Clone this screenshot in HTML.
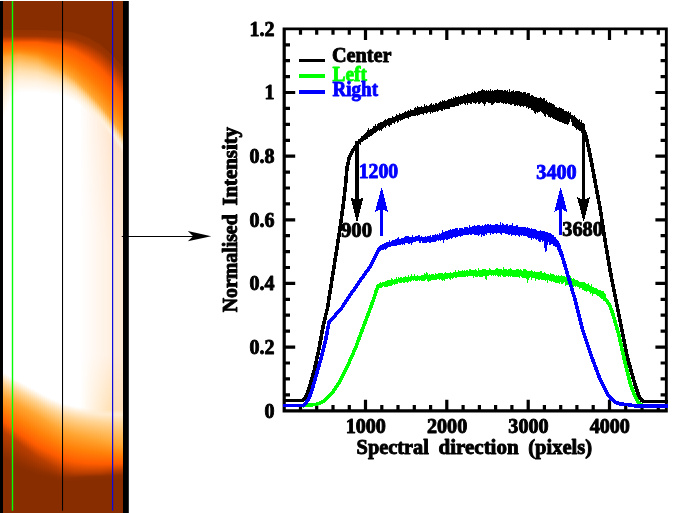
<!DOCTYPE html>
<html lang="en"><head><meta charset="utf-8"><title>Normalised intensity along the spectral direction</title>
<style>html,body{margin:0;padding:0;background:#fff}body{width:694px;height:513px;overflow:hidden}svg{display:block;will-change:transform}text{font-family:'Liberation Serif','DejaVu Serif',serif;font-weight:bold;font-size:20px;stroke-width:0.9px;paint-order:stroke fill;stroke-linejoin:round}.k{fill:#000;stroke:#000}.g{fill:#0f0;stroke:#0f0}.b{fill:#00f;stroke:#00f}</style></head><body>
<svg width="694" height="513" viewBox="0 0 694 513">
<defs><linearGradient id="peach" x1="0" y1="0" x2="0" y2="1"><stop offset="0.26" stop-color="#fce0c4" stop-opacity="0"/><stop offset="0.30" stop-color="#fce0c4" stop-opacity="1"/><stop offset="0.80" stop-color="#fce0c4" stop-opacity="1"/><stop offset="0.84" stop-color="#fce0c4" stop-opacity="0"/></linearGradient><linearGradient id="g0" gradientUnits="userSpaceOnUse" x1="0" y1="0" x2="0" y2="513"><stop offset="0.0575" stop-color="#882d00"/><stop offset="0.0595" stop-color="#943200"/><stop offset="0.0702" stop-color="#9c3400"/><stop offset="0.0783" stop-color="#d24600"/><stop offset="0.0846" stop-color="#ff5c00"/><stop offset="0.0983" stop-color="#ff7a04"/><stop offset="0.1065" stop-color="#ff941a"/><stop offset="0.1120" stop-color="#ffa836"/><stop offset="0.1352" stop-color="#ffc674"/><stop offset="0.1608" stop-color="#ffe0b0"/><stop offset="0.1910" stop-color="#fff1de"/><stop offset="0.2282" stop-color="#ffffff"/><stop offset="0.4426" stop-color="#ffffff"/><stop offset="0.6195" stop-color="#ffffff"/><stop offset="0.7267" stop-color="#ffffff"/><stop offset="0.7364" stop-color="#ffecd0"/><stop offset="0.7477" stop-color="#ffd494"/><stop offset="0.7610" stop-color="#ffbc5f"/><stop offset="0.7742" stop-color="#ffa532"/><stop offset="0.7981" stop-color="#ff820a"/><stop offset="0.8221" stop-color="#ff5c00"/><stop offset="0.8425" stop-color="#b93e00"/><stop offset="0.8863" stop-color="#8e2f00"/><stop offset="0.8941" stop-color="#882d00"/></linearGradient><linearGradient id="g1" gradientUnits="userSpaceOnUse" x1="0" y1="0" x2="0" y2="513"><stop offset="0.0575" stop-color="#882d00"/><stop offset="0.0595" stop-color="#943200"/><stop offset="0.0702" stop-color="#9c3400"/><stop offset="0.0782" stop-color="#d24600"/><stop offset="0.0843" stop-color="#ff5c00"/><stop offset="0.0979" stop-color="#ff7a04"/><stop offset="0.1060" stop-color="#ff941a"/><stop offset="0.1115" stop-color="#ffa836"/><stop offset="0.1328" stop-color="#ffc674"/><stop offset="0.1563" stop-color="#ffe0b0"/><stop offset="0.1841" stop-color="#fff1de"/><stop offset="0.2183" stop-color="#ffffff"/><stop offset="0.4327" stop-color="#ffffff"/><stop offset="0.6218" stop-color="#ffffff"/><stop offset="0.7290" stop-color="#ffffff"/><stop offset="0.7387" stop-color="#ffecd0"/><stop offset="0.7500" stop-color="#ffd494"/><stop offset="0.7631" stop-color="#ffbc5f"/><stop offset="0.7763" stop-color="#ffa532"/><stop offset="0.8007" stop-color="#ff820a"/><stop offset="0.8251" stop-color="#ff5c00"/><stop offset="0.8455" stop-color="#b93e00"/><stop offset="0.8887" stop-color="#8e2f00"/><stop offset="0.8965" stop-color="#882d00"/></linearGradient><linearGradient id="g2" gradientUnits="userSpaceOnUse" x1="0" y1="0" x2="0" y2="513"><stop offset="0.0575" stop-color="#882d00"/><stop offset="0.0595" stop-color="#943200"/><stop offset="0.0702" stop-color="#9c3400"/><stop offset="0.0781" stop-color="#d24600"/><stop offset="0.0841" stop-color="#ff5c00"/><stop offset="0.0975" stop-color="#ff7a04"/><stop offset="0.1056" stop-color="#ff941a"/><stop offset="0.1109" stop-color="#ffa836"/><stop offset="0.1304" stop-color="#ffc674"/><stop offset="0.1519" stop-color="#ffe0b0"/><stop offset="0.1772" stop-color="#fff1de"/><stop offset="0.2084" stop-color="#ffffff"/><stop offset="0.4228" stop-color="#ffffff"/><stop offset="0.6241" stop-color="#ffffff"/><stop offset="0.7313" stop-color="#ffffff"/><stop offset="0.7411" stop-color="#ffecd0"/><stop offset="0.7522" stop-color="#ffd494"/><stop offset="0.7653" stop-color="#ffbc5f"/><stop offset="0.7783" stop-color="#ffa532"/><stop offset="0.8032" stop-color="#ff820a"/><stop offset="0.8281" stop-color="#ff5c00"/><stop offset="0.8484" stop-color="#b93e00"/><stop offset="0.8912" stop-color="#8e2f00"/><stop offset="0.8990" stop-color="#882d00"/></linearGradient><linearGradient id="g3" gradientUnits="userSpaceOnUse" x1="0" y1="0" x2="0" y2="513"><stop offset="0.0575" stop-color="#882d00"/><stop offset="0.0595" stop-color="#943200"/><stop offset="0.0702" stop-color="#9c3400"/><stop offset="0.0780" stop-color="#d24600"/><stop offset="0.0839" stop-color="#ff5c00"/><stop offset="0.0971" stop-color="#ff7a04"/><stop offset="0.1051" stop-color="#ff941a"/><stop offset="0.1104" stop-color="#ffa836"/><stop offset="0.1283" stop-color="#ffc674"/><stop offset="0.1481" stop-color="#ffe0b0"/><stop offset="0.1714" stop-color="#fff1de"/><stop offset="0.2001" stop-color="#ffffff"/><stop offset="0.4145" stop-color="#ffffff"/><stop offset="0.6263" stop-color="#ffffff"/><stop offset="0.7335" stop-color="#ffffff"/><stop offset="0.7432" stop-color="#ffecd0"/><stop offset="0.7544" stop-color="#ffd494"/><stop offset="0.7674" stop-color="#ffbc5f"/><stop offset="0.7804" stop-color="#ffa532"/><stop offset="0.8057" stop-color="#ff820a"/><stop offset="0.8311" stop-color="#ff5c00"/><stop offset="0.8513" stop-color="#b93e00"/><stop offset="0.8936" stop-color="#8e2f00"/><stop offset="0.9014" stop-color="#882d00"/></linearGradient><linearGradient id="g4" gradientUnits="userSpaceOnUse" x1="0" y1="0" x2="0" y2="513"><stop offset="0.0575" stop-color="#882d00"/><stop offset="0.0595" stop-color="#943200"/><stop offset="0.0702" stop-color="#9c3400"/><stop offset="0.0779" stop-color="#d24600"/><stop offset="0.0836" stop-color="#ff5c00"/><stop offset="0.0967" stop-color="#ff7a04"/><stop offset="0.1045" stop-color="#ff941a"/><stop offset="0.1098" stop-color="#ffa836"/><stop offset="0.1261" stop-color="#ffc674"/><stop offset="0.1441" stop-color="#ffe0b0"/><stop offset="0.1654" stop-color="#fff1de"/><stop offset="0.1916" stop-color="#ffffff"/><stop offset="0.4061" stop-color="#ffffff"/><stop offset="0.6284" stop-color="#ffffff"/><stop offset="0.7356" stop-color="#ffffff"/><stop offset="0.7453" stop-color="#ffecd0"/><stop offset="0.7565" stop-color="#ffd494"/><stop offset="0.7695" stop-color="#ffbc5f"/><stop offset="0.7825" stop-color="#ffa532"/><stop offset="0.8083" stop-color="#ff820a"/><stop offset="0.8340" stop-color="#ff5c00"/><stop offset="0.8542" stop-color="#b93e00"/><stop offset="0.8960" stop-color="#8e2f00"/><stop offset="0.9038" stop-color="#882d00"/></linearGradient><linearGradient id="g5" gradientUnits="userSpaceOnUse" x1="0" y1="0" x2="0" y2="513"><stop offset="0.0575" stop-color="#882d00"/><stop offset="0.0595" stop-color="#943200"/><stop offset="0.0702" stop-color="#9c3400"/><stop offset="0.0778" stop-color="#d24600"/><stop offset="0.0834" stop-color="#ff5c00"/><stop offset="0.0962" stop-color="#ff7a04"/><stop offset="0.1039" stop-color="#ff941a"/><stop offset="0.1090" stop-color="#ffa836"/><stop offset="0.1249" stop-color="#ffc674"/><stop offset="0.1423" stop-color="#ffe0b0"/><stop offset="0.1629" stop-color="#fff1de"/><stop offset="0.1883" stop-color="#ffffff"/><stop offset="0.4027" stop-color="#ffffff"/><stop offset="0.6305" stop-color="#ffffff"/><stop offset="0.7377" stop-color="#ffffff"/><stop offset="0.7475" stop-color="#ffecd0"/><stop offset="0.7586" stop-color="#ffd494"/><stop offset="0.7716" stop-color="#ffbc5f"/><stop offset="0.7846" stop-color="#ffa532"/><stop offset="0.8108" stop-color="#ff820a"/><stop offset="0.8370" stop-color="#ff5c00"/><stop offset="0.8571" stop-color="#b93e00"/><stop offset="0.8984" stop-color="#8e2f00"/><stop offset="0.9062" stop-color="#882d00"/></linearGradient><linearGradient id="g6" gradientUnits="userSpaceOnUse" x1="0" y1="0" x2="0" y2="513"><stop offset="0.0575" stop-color="#882d00"/><stop offset="0.0595" stop-color="#943200"/><stop offset="0.0702" stop-color="#9c3400"/><stop offset="0.0776" stop-color="#d24600"/><stop offset="0.0832" stop-color="#ff5c00"/><stop offset="0.0957" stop-color="#ff7a04"/><stop offset="0.1032" stop-color="#ff941a"/><stop offset="0.1082" stop-color="#ffa836"/><stop offset="0.1236" stop-color="#ffc674"/><stop offset="0.1404" stop-color="#ffe0b0"/><stop offset="0.1604" stop-color="#fff1de"/><stop offset="0.1849" stop-color="#ffffff"/><stop offset="0.3993" stop-color="#ffffff"/><stop offset="0.6326" stop-color="#ffffff"/><stop offset="0.7398" stop-color="#ffffff"/><stop offset="0.7496" stop-color="#ffecd0"/><stop offset="0.7607" stop-color="#ffd494"/><stop offset="0.7737" stop-color="#ffbc5f"/><stop offset="0.7867" stop-color="#ffa532"/><stop offset="0.8133" stop-color="#ff820a"/><stop offset="0.8400" stop-color="#ff5c00"/><stop offset="0.8600" stop-color="#b93e00"/><stop offset="0.9008" stop-color="#8e2f00"/><stop offset="0.9086" stop-color="#882d00"/></linearGradient><linearGradient id="g7" gradientUnits="userSpaceOnUse" x1="0" y1="0" x2="0" y2="513"><stop offset="0.0575" stop-color="#882d00"/><stop offset="0.0595" stop-color="#943200"/><stop offset="0.0702" stop-color="#9c3400"/><stop offset="0.0775" stop-color="#d24600"/><stop offset="0.0829" stop-color="#ff5c00"/><stop offset="0.0952" stop-color="#ff7a04"/><stop offset="0.1026" stop-color="#ff941a"/><stop offset="0.1075" stop-color="#ffa836"/><stop offset="0.1223" stop-color="#ffc674"/><stop offset="0.1386" stop-color="#ffe0b0"/><stop offset="0.1578" stop-color="#fff1de"/><stop offset="0.1816" stop-color="#ffffff"/><stop offset="0.3960" stop-color="#ffffff"/><stop offset="0.6347" stop-color="#ffffff"/><stop offset="0.7419" stop-color="#ffffff"/><stop offset="0.7517" stop-color="#ffecd0"/><stop offset="0.7628" stop-color="#ffd494"/><stop offset="0.7758" stop-color="#ffbc5f"/><stop offset="0.7887" stop-color="#ffa532"/><stop offset="0.8159" stop-color="#ff820a"/><stop offset="0.8430" stop-color="#ff5c00"/><stop offset="0.8629" stop-color="#b93e00"/><stop offset="0.9032" stop-color="#8e2f00"/><stop offset="0.9110" stop-color="#882d00"/></linearGradient><linearGradient id="g8" gradientUnits="userSpaceOnUse" x1="0" y1="0" x2="0" y2="513"><stop offset="0.0575" stop-color="#882d00"/><stop offset="0.0595" stop-color="#943200"/><stop offset="0.0702" stop-color="#9c3400"/><stop offset="0.0775" stop-color="#d24600"/><stop offset="0.0828" stop-color="#ff5c00"/><stop offset="0.0953" stop-color="#ff7a04"/><stop offset="0.1027" stop-color="#ff941a"/><stop offset="0.1077" stop-color="#ffa836"/><stop offset="0.1223" stop-color="#ffc674"/><stop offset="0.1384" stop-color="#ffe0b0"/><stop offset="0.1575" stop-color="#fff1de"/><stop offset="0.1809" stop-color="#ffffff"/><stop offset="0.3953" stop-color="#ffffff"/><stop offset="0.6369" stop-color="#ffffff"/><stop offset="0.7441" stop-color="#ffffff"/><stop offset="0.7538" stop-color="#ffecd0"/><stop offset="0.7650" stop-color="#ffd494"/><stop offset="0.7780" stop-color="#ffbc5f"/><stop offset="0.7910" stop-color="#ffa532"/><stop offset="0.8184" stop-color="#ff820a"/><stop offset="0.8458" stop-color="#ff5c00"/><stop offset="0.8658" stop-color="#b93e00"/><stop offset="0.9051" stop-color="#8e2f00"/><stop offset="0.9129" stop-color="#882d00"/></linearGradient><linearGradient id="g9" gradientUnits="userSpaceOnUse" x1="0" y1="0" x2="0" y2="513"><stop offset="0.0575" stop-color="#882d00"/><stop offset="0.0595" stop-color="#943200"/><stop offset="0.0702" stop-color="#9c3400"/><stop offset="0.0775" stop-color="#d24600"/><stop offset="0.0828" stop-color="#ff5c00"/><stop offset="0.0956" stop-color="#ff7a04"/><stop offset="0.1033" stop-color="#ff941a"/><stop offset="0.1084" stop-color="#ffa836"/><stop offset="0.1229" stop-color="#ffc674"/><stop offset="0.1388" stop-color="#ffe0b0"/><stop offset="0.1576" stop-color="#fff1de"/><stop offset="0.1807" stop-color="#ffffff"/><stop offset="0.3951" stop-color="#ffffff"/><stop offset="0.6390" stop-color="#ffffff"/><stop offset="0.7462" stop-color="#ffffff"/><stop offset="0.7560" stop-color="#ffecd0"/><stop offset="0.7671" stop-color="#ffd494"/><stop offset="0.7802" stop-color="#ffbc5f"/><stop offset="0.7932" stop-color="#ffa532"/><stop offset="0.8209" stop-color="#ff820a"/><stop offset="0.8485" stop-color="#ff5c00"/><stop offset="0.8688" stop-color="#b93e00"/><stop offset="0.9067" stop-color="#8e2f00"/><stop offset="0.9145" stop-color="#882d00"/></linearGradient><linearGradient id="g10" gradientUnits="userSpaceOnUse" x1="0" y1="0" x2="0" y2="513"><stop offset="0.0575" stop-color="#882d00"/><stop offset="0.0595" stop-color="#943200"/><stop offset="0.0702" stop-color="#9c3400"/><stop offset="0.0775" stop-color="#d24600"/><stop offset="0.0828" stop-color="#ff5c00"/><stop offset="0.0960" stop-color="#ff7a04"/><stop offset="0.1039" stop-color="#ff941a"/><stop offset="0.1091" stop-color="#ffa836"/><stop offset="0.1234" stop-color="#ffc674"/><stop offset="0.1391" stop-color="#ffe0b0"/><stop offset="0.1577" stop-color="#fff1de"/><stop offset="0.1806" stop-color="#ffffff"/><stop offset="0.3950" stop-color="#ffffff"/><stop offset="0.6411" stop-color="#ffffff"/><stop offset="0.7484" stop-color="#ffffff"/><stop offset="0.7581" stop-color="#ffecd0"/><stop offset="0.7693" stop-color="#ffd494"/><stop offset="0.7824" stop-color="#ffbc5f"/><stop offset="0.7955" stop-color="#ffa532"/><stop offset="0.8234" stop-color="#ff820a"/><stop offset="0.8512" stop-color="#ff5c00"/><stop offset="0.8717" stop-color="#b93e00"/><stop offset="0.9082" stop-color="#8e2f00"/><stop offset="0.9160" stop-color="#882d00"/></linearGradient><linearGradient id="g11" gradientUnits="userSpaceOnUse" x1="0" y1="0" x2="0" y2="513"><stop offset="0.0575" stop-color="#882d00"/><stop offset="0.0595" stop-color="#943200"/><stop offset="0.0702" stop-color="#9c3400"/><stop offset="0.0775" stop-color="#d24600"/><stop offset="0.0828" stop-color="#ff5c00"/><stop offset="0.0964" stop-color="#ff7a04"/><stop offset="0.1045" stop-color="#ff941a"/><stop offset="0.1099" stop-color="#ffa836"/><stop offset="0.1240" stop-color="#ffc674"/><stop offset="0.1395" stop-color="#ffe0b0"/><stop offset="0.1578" stop-color="#fff1de"/><stop offset="0.1804" stop-color="#ffffff"/><stop offset="0.3948" stop-color="#ffffff"/><stop offset="0.6433" stop-color="#ffffff"/><stop offset="0.7505" stop-color="#ffffff"/><stop offset="0.7602" stop-color="#ffecd0"/><stop offset="0.7715" stop-color="#ffd494"/><stop offset="0.7847" stop-color="#ffbc5f"/><stop offset="0.7978" stop-color="#ffa532"/><stop offset="0.8258" stop-color="#ff820a"/><stop offset="0.8539" stop-color="#ff5c00"/><stop offset="0.8746" stop-color="#b93e00"/><stop offset="0.9098" stop-color="#8e2f00"/><stop offset="0.9176" stop-color="#882d00"/></linearGradient><linearGradient id="g12" gradientUnits="userSpaceOnUse" x1="0" y1="0" x2="0" y2="513"><stop offset="0.0575" stop-color="#882d00"/><stop offset="0.0595" stop-color="#943200"/><stop offset="0.0702" stop-color="#9c3400"/><stop offset="0.0775" stop-color="#d24600"/><stop offset="0.0828" stop-color="#ff5c00"/><stop offset="0.0967" stop-color="#ff7a04"/><stop offset="0.1050" stop-color="#ff941a"/><stop offset="0.1106" stop-color="#ffa836"/><stop offset="0.1245" stop-color="#ffc674"/><stop offset="0.1398" stop-color="#ffe0b0"/><stop offset="0.1579" stop-color="#fff1de"/><stop offset="0.1802" stop-color="#ffffff"/><stop offset="0.3947" stop-color="#ffffff"/><stop offset="0.6454" stop-color="#ffffff"/><stop offset="0.7526" stop-color="#ffffff"/><stop offset="0.7624" stop-color="#ffecd0"/><stop offset="0.7737" stop-color="#ffd494"/><stop offset="0.7869" stop-color="#ffbc5f"/><stop offset="0.8001" stop-color="#ffa532"/><stop offset="0.8283" stop-color="#ff820a"/><stop offset="0.8566" stop-color="#ff5c00"/><stop offset="0.8775" stop-color="#b93e00"/><stop offset="0.9113" stop-color="#8e2f00"/><stop offset="0.9191" stop-color="#882d00"/></linearGradient><linearGradient id="g13" gradientUnits="userSpaceOnUse" x1="0" y1="0" x2="0" y2="513"><stop offset="0.0575" stop-color="#882d00"/><stop offset="0.0595" stop-color="#943200"/><stop offset="0.0702" stop-color="#9c3400"/><stop offset="0.0775" stop-color="#d24600"/><stop offset="0.0828" stop-color="#ff5c00"/><stop offset="0.0971" stop-color="#ff7a04"/><stop offset="0.1056" stop-color="#ff941a"/><stop offset="0.1113" stop-color="#ffa836"/><stop offset="0.1251" stop-color="#ffc674"/><stop offset="0.1402" stop-color="#ffe0b0"/><stop offset="0.1581" stop-color="#fff1de"/><stop offset="0.1801" stop-color="#ffffff"/><stop offset="0.3945" stop-color="#ffffff"/><stop offset="0.6475" stop-color="#ffffff"/><stop offset="0.7548" stop-color="#ffffff"/><stop offset="0.7645" stop-color="#ffecd0"/><stop offset="0.7759" stop-color="#ffd494"/><stop offset="0.7891" stop-color="#ffbc5f"/><stop offset="0.8024" stop-color="#ffa532"/><stop offset="0.8308" stop-color="#ff820a"/><stop offset="0.8593" stop-color="#ff5c00"/><stop offset="0.8805" stop-color="#b93e00"/><stop offset="0.9129" stop-color="#8e2f00"/><stop offset="0.9207" stop-color="#882d00"/></linearGradient><linearGradient id="g14" gradientUnits="userSpaceOnUse" x1="0" y1="0" x2="0" y2="513"><stop offset="0.0575" stop-color="#882d00"/><stop offset="0.0595" stop-color="#943200"/><stop offset="0.0702" stop-color="#9c3400"/><stop offset="0.0775" stop-color="#d24600"/><stop offset="0.0828" stop-color="#ff5c00"/><stop offset="0.0974" stop-color="#ff7a04"/><stop offset="0.1062" stop-color="#ff941a"/><stop offset="0.1120" stop-color="#ffa836"/><stop offset="0.1256" stop-color="#ffc674"/><stop offset="0.1405" stop-color="#ffe0b0"/><stop offset="0.1582" stop-color="#fff1de"/><stop offset="0.1799" stop-color="#ffffff"/><stop offset="0.3943" stop-color="#ffffff"/><stop offset="0.6497" stop-color="#ffffff"/><stop offset="0.7569" stop-color="#ffffff"/><stop offset="0.7666" stop-color="#ffecd0"/><stop offset="0.7780" stop-color="#ffd494"/><stop offset="0.7913" stop-color="#ffbc5f"/><stop offset="0.8046" stop-color="#ffa532"/><stop offset="0.8333" stop-color="#ff820a"/><stop offset="0.8620" stop-color="#ff5c00"/><stop offset="0.8834" stop-color="#b93e00"/><stop offset="0.9144" stop-color="#8e2f00"/><stop offset="0.9222" stop-color="#882d00"/></linearGradient><linearGradient id="g15" gradientUnits="userSpaceOnUse" x1="0" y1="0" x2="0" y2="513"><stop offset="0.0575" stop-color="#882d00"/><stop offset="0.0595" stop-color="#943200"/><stop offset="0.0702" stop-color="#9c3400"/><stop offset="0.0775" stop-color="#d24600"/><stop offset="0.0828" stop-color="#ff5c00"/><stop offset="0.0978" stop-color="#ff7a04"/><stop offset="0.1068" stop-color="#ff941a"/><stop offset="0.1128" stop-color="#ffa836"/><stop offset="0.1262" stop-color="#ffc674"/><stop offset="0.1409" stop-color="#ffe0b0"/><stop offset="0.1583" stop-color="#fff1de"/><stop offset="0.1798" stop-color="#ffffff"/><stop offset="0.3942" stop-color="#ffffff"/><stop offset="0.6518" stop-color="#ffffff"/><stop offset="0.7590" stop-color="#ffffff"/><stop offset="0.7688" stop-color="#ffecd0"/><stop offset="0.7802" stop-color="#ffd494"/><stop offset="0.7936" stop-color="#ffbc5f"/><stop offset="0.8069" stop-color="#ffa532"/><stop offset="0.8358" stop-color="#ff820a"/><stop offset="0.8647" stop-color="#ff5c00"/><stop offset="0.8863" stop-color="#b93e00"/><stop offset="0.9160" stop-color="#8e2f00"/><stop offset="0.9238" stop-color="#882d00"/></linearGradient><linearGradient id="g16" gradientUnits="userSpaceOnUse" x1="0" y1="0" x2="0" y2="513"><stop offset="0.0575" stop-color="#882d00"/><stop offset="0.0595" stop-color="#943200"/><stop offset="0.0702" stop-color="#9c3400"/><stop offset="0.0775" stop-color="#d24600"/><stop offset="0.0828" stop-color="#ff5c00"/><stop offset="0.0982" stop-color="#ff7a04"/><stop offset="0.1074" stop-color="#ff941a"/><stop offset="0.1135" stop-color="#ffa836"/><stop offset="0.1267" stop-color="#ffc674"/><stop offset="0.1413" stop-color="#ffe0b0"/><stop offset="0.1584" stop-color="#fff1de"/><stop offset="0.1796" stop-color="#ffffff"/><stop offset="0.3940" stop-color="#ffffff"/><stop offset="0.6540" stop-color="#ffffff"/><stop offset="0.7612" stop-color="#ffffff"/><stop offset="0.7709" stop-color="#ffecd0"/><stop offset="0.7824" stop-color="#ffd494"/><stop offset="0.7958" stop-color="#ffbc5f"/><stop offset="0.8092" stop-color="#ffa532"/><stop offset="0.8383" stop-color="#ff820a"/><stop offset="0.8674" stop-color="#ff5c00"/><stop offset="0.8892" stop-color="#b93e00"/><stop offset="0.9175" stop-color="#8e2f00"/><stop offset="0.9253" stop-color="#882d00"/></linearGradient><linearGradient id="g17" gradientUnits="userSpaceOnUse" x1="0" y1="0" x2="0" y2="513"><stop offset="0.0575" stop-color="#882d00"/><stop offset="0.0595" stop-color="#943200"/><stop offset="0.0702" stop-color="#9c3400"/><stop offset="0.0776" stop-color="#d24600"/><stop offset="0.0830" stop-color="#ff5c00"/><stop offset="0.0987" stop-color="#ff7a04"/><stop offset="0.1082" stop-color="#ff941a"/><stop offset="0.1145" stop-color="#ffa836"/><stop offset="0.1275" stop-color="#ffc674"/><stop offset="0.1419" stop-color="#ffe0b0"/><stop offset="0.1588" stop-color="#fff1de"/><stop offset="0.1797" stop-color="#ffffff"/><stop offset="0.3941" stop-color="#ffffff"/><stop offset="0.6561" stop-color="#ffffff"/><stop offset="0.7633" stop-color="#ffffff"/><stop offset="0.7731" stop-color="#ffecd0"/><stop offset="0.7846" stop-color="#ffd494"/><stop offset="0.7981" stop-color="#ffbc5f"/><stop offset="0.8115" stop-color="#ffa532"/><stop offset="0.8407" stop-color="#ff820a"/><stop offset="0.8699" stop-color="#ff5c00"/><stop offset="0.8919" stop-color="#b93e00"/><stop offset="0.9190" stop-color="#8e2f00"/><stop offset="0.9268" stop-color="#882d00"/></linearGradient><linearGradient id="g18" gradientUnits="userSpaceOnUse" x1="0" y1="0" x2="0" y2="513"><stop offset="0.0577" stop-color="#882d00"/><stop offset="0.0596" stop-color="#943200"/><stop offset="0.0704" stop-color="#9c3400"/><stop offset="0.0779" stop-color="#d24600"/><stop offset="0.0835" stop-color="#ff5c00"/><stop offset="0.0999" stop-color="#ff7a04"/><stop offset="0.1098" stop-color="#ff941a"/><stop offset="0.1163" stop-color="#ffa836"/><stop offset="0.1292" stop-color="#ffc674"/><stop offset="0.1434" stop-color="#ffe0b0"/><stop offset="0.1601" stop-color="#fff1de"/><stop offset="0.1807" stop-color="#ffffff"/><stop offset="0.3951" stop-color="#ffffff"/><stop offset="0.6583" stop-color="#ffffff"/><stop offset="0.7655" stop-color="#ffffff"/><stop offset="0.7752" stop-color="#ffecd0"/><stop offset="0.7868" stop-color="#ffd494"/><stop offset="0.8004" stop-color="#ffbc5f"/><stop offset="0.8139" stop-color="#ffa532"/><stop offset="0.8429" stop-color="#ff820a"/><stop offset="0.8718" stop-color="#ff5c00"/><stop offset="0.8941" stop-color="#b93e00"/><stop offset="0.9200" stop-color="#8e2f00"/><stop offset="0.9278" stop-color="#882d00"/></linearGradient><linearGradient id="g19" gradientUnits="userSpaceOnUse" x1="0" y1="0" x2="0" y2="513"><stop offset="0.0578" stop-color="#882d00"/><stop offset="0.0598" stop-color="#943200"/><stop offset="0.0705" stop-color="#9c3400"/><stop offset="0.0782" stop-color="#d24600"/><stop offset="0.0840" stop-color="#ff5c00"/><stop offset="0.1011" stop-color="#ff7a04"/><stop offset="0.1114" stop-color="#ff941a"/><stop offset="0.1182" stop-color="#ffa836"/><stop offset="0.1308" stop-color="#ffc674"/><stop offset="0.1446" stop-color="#ffe0b0"/><stop offset="0.1610" stop-color="#fff1de"/><stop offset="0.1811" stop-color="#ffffff"/><stop offset="0.3956" stop-color="#ffffff"/><stop offset="0.6604" stop-color="#ffffff"/><stop offset="0.7676" stop-color="#ffffff"/><stop offset="0.7774" stop-color="#ffecd0"/><stop offset="0.7891" stop-color="#ffd494"/><stop offset="0.8027" stop-color="#ffbc5f"/><stop offset="0.8163" stop-color="#ffa532"/><stop offset="0.8450" stop-color="#ff820a"/><stop offset="0.8737" stop-color="#ff5c00"/><stop offset="0.8962" stop-color="#b93e00"/><stop offset="0.9211" stop-color="#8e2f00"/><stop offset="0.9289" stop-color="#882d00"/></linearGradient><linearGradient id="g20" gradientUnits="userSpaceOnUse" x1="0" y1="0" x2="0" y2="513"><stop offset="0.0580" stop-color="#882d00"/><stop offset="0.0599" stop-color="#943200"/><stop offset="0.0706" stop-color="#9c3400"/><stop offset="0.0786" stop-color="#d24600"/><stop offset="0.0846" stop-color="#ff5c00"/><stop offset="0.1023" stop-color="#ff7a04"/><stop offset="0.1129" stop-color="#ff941a"/><stop offset="0.1200" stop-color="#ffa836"/><stop offset="0.1324" stop-color="#ffc674"/><stop offset="0.1459" stop-color="#ffe0b0"/><stop offset="0.1619" stop-color="#fff1de"/><stop offset="0.1816" stop-color="#ffffff"/><stop offset="0.3961" stop-color="#ffffff"/><stop offset="0.6626" stop-color="#ffffff"/><stop offset="0.7698" stop-color="#ffffff"/><stop offset="0.7795" stop-color="#ffecd0"/><stop offset="0.7913" stop-color="#ffd494"/><stop offset="0.8050" stop-color="#ffbc5f"/><stop offset="0.8187" stop-color="#ffa532"/><stop offset="0.8472" stop-color="#ff820a"/><stop offset="0.8757" stop-color="#ff5c00"/><stop offset="0.8983" stop-color="#b93e00"/><stop offset="0.9222" stop-color="#8e2f00"/><stop offset="0.9300" stop-color="#882d00"/></linearGradient><linearGradient id="g21" gradientUnits="userSpaceOnUse" x1="0" y1="0" x2="0" y2="513"><stop offset="0.0581" stop-color="#882d00"/><stop offset="0.0601" stop-color="#943200"/><stop offset="0.0708" stop-color="#9c3400"/><stop offset="0.0789" stop-color="#d24600"/><stop offset="0.0851" stop-color="#ff5c00"/><stop offset="0.1035" stop-color="#ff7a04"/><stop offset="0.1145" stop-color="#ff941a"/><stop offset="0.1219" stop-color="#ffa836"/><stop offset="0.1339" stop-color="#ffc674"/><stop offset="0.1472" stop-color="#ffe0b0"/><stop offset="0.1628" stop-color="#fff1de"/><stop offset="0.1821" stop-color="#ffffff"/><stop offset="0.3965" stop-color="#ffffff"/><stop offset="0.6647" stop-color="#ffffff"/><stop offset="0.7719" stop-color="#ffffff"/><stop offset="0.7817" stop-color="#ffecd0"/><stop offset="0.7935" stop-color="#ffd494"/><stop offset="0.8073" stop-color="#ffbc5f"/><stop offset="0.8211" stop-color="#ffa532"/><stop offset="0.8494" stop-color="#ff820a"/><stop offset="0.8776" stop-color="#ff5c00"/><stop offset="0.9004" stop-color="#b93e00"/><stop offset="0.9232" stop-color="#8e2f00"/><stop offset="0.9310" stop-color="#882d00"/></linearGradient><linearGradient id="g22" gradientUnits="userSpaceOnUse" x1="0" y1="0" x2="0" y2="513"><stop offset="0.0583" stop-color="#882d00"/><stop offset="0.0602" stop-color="#943200"/><stop offset="0.0709" stop-color="#9c3400"/><stop offset="0.0793" stop-color="#d24600"/><stop offset="0.0856" stop-color="#ff5c00"/><stop offset="0.1047" stop-color="#ff7a04"/><stop offset="0.1161" stop-color="#ff941a"/><stop offset="0.1237" stop-color="#ffa836"/><stop offset="0.1355" stop-color="#ffc674"/><stop offset="0.1484" stop-color="#ffe0b0"/><stop offset="0.1638" stop-color="#fff1de"/><stop offset="0.1826" stop-color="#ffffff"/><stop offset="0.3970" stop-color="#ffffff"/><stop offset="0.6669" stop-color="#ffffff"/><stop offset="0.7741" stop-color="#ffffff"/><stop offset="0.7838" stop-color="#ffecd0"/><stop offset="0.7958" stop-color="#ffd494"/><stop offset="0.8097" stop-color="#ffbc5f"/><stop offset="0.8236" stop-color="#ffa532"/><stop offset="0.8515" stop-color="#ff820a"/><stop offset="0.8795" stop-color="#ff5c00"/><stop offset="0.9025" stop-color="#b93e00"/><stop offset="0.9243" stop-color="#8e2f00"/><stop offset="0.9321" stop-color="#882d00"/></linearGradient><linearGradient id="g23" gradientUnits="userSpaceOnUse" x1="0" y1="0" x2="0" y2="513"><stop offset="0.0584" stop-color="#882d00"/><stop offset="0.0604" stop-color="#943200"/><stop offset="0.0711" stop-color="#9c3400"/><stop offset="0.0796" stop-color="#d24600"/><stop offset="0.0862" stop-color="#ff5c00"/><stop offset="0.1059" stop-color="#ff7a04"/><stop offset="0.1177" stop-color="#ff941a"/><stop offset="0.1256" stop-color="#ffa836"/><stop offset="0.1371" stop-color="#ffc674"/><stop offset="0.1497" stop-color="#ffe0b0"/><stop offset="0.1647" stop-color="#fff1de"/><stop offset="0.1831" stop-color="#ffffff"/><stop offset="0.3975" stop-color="#ffffff"/><stop offset="0.6687" stop-color="#ffffff"/><stop offset="0.7759" stop-color="#ffffff"/><stop offset="0.7857" stop-color="#ffecd0"/><stop offset="0.7978" stop-color="#ffd494"/><stop offset="0.8119" stop-color="#ffbc5f"/><stop offset="0.8260" stop-color="#ffa532"/><stop offset="0.8537" stop-color="#ff820a"/><stop offset="0.8814" stop-color="#ff5c00"/><stop offset="0.9046" stop-color="#b93e00"/><stop offset="0.9253" stop-color="#8e2f00"/><stop offset="0.9331" stop-color="#882d00"/></linearGradient><linearGradient id="g24" gradientUnits="userSpaceOnUse" x1="0" y1="0" x2="0" y2="513"><stop offset="0.0586" stop-color="#882d00"/><stop offset="0.0605" stop-color="#943200"/><stop offset="0.0712" stop-color="#9c3400"/><stop offset="0.0799" stop-color="#d24600"/><stop offset="0.0867" stop-color="#ff5c00"/><stop offset="0.1070" stop-color="#ff7a04"/><stop offset="0.1193" stop-color="#ff941a"/><stop offset="0.1274" stop-color="#ffa836"/><stop offset="0.1386" stop-color="#ffc674"/><stop offset="0.1510" stop-color="#ffe0b0"/><stop offset="0.1656" stop-color="#fff1de"/><stop offset="0.1836" stop-color="#ffffff"/><stop offset="0.3980" stop-color="#ffffff"/><stop offset="0.6703" stop-color="#ffffff"/><stop offset="0.7776" stop-color="#ffffff"/><stop offset="0.7873" stop-color="#ffecd0"/><stop offset="0.7996" stop-color="#ffd494"/><stop offset="0.8140" stop-color="#ffbc5f"/><stop offset="0.8284" stop-color="#ffa532"/><stop offset="0.8559" stop-color="#ff820a"/><stop offset="0.8834" stop-color="#ff5c00"/><stop offset="0.9067" stop-color="#b93e00"/><stop offset="0.9264" stop-color="#8e2f00"/><stop offset="0.9342" stop-color="#882d00"/></linearGradient><linearGradient id="g25" gradientUnits="userSpaceOnUse" x1="0" y1="0" x2="0" y2="513"><stop offset="0.0587" stop-color="#882d00"/><stop offset="0.0606" stop-color="#943200"/><stop offset="0.0714" stop-color="#9c3400"/><stop offset="0.0803" stop-color="#d24600"/><stop offset="0.0872" stop-color="#ff5c00"/><stop offset="0.1082" stop-color="#ff7a04"/><stop offset="0.1208" stop-color="#ff941a"/><stop offset="0.1293" stop-color="#ffa836"/><stop offset="0.1402" stop-color="#ffc674"/><stop offset="0.1523" stop-color="#ffe0b0"/><stop offset="0.1665" stop-color="#fff1de"/><stop offset="0.1840" stop-color="#ffffff"/><stop offset="0.3985" stop-color="#ffffff"/><stop offset="0.6720" stop-color="#ffffff"/><stop offset="0.7792" stop-color="#ffffff"/><stop offset="0.7889" stop-color="#ffecd0"/><stop offset="0.8015" stop-color="#ffd494"/><stop offset="0.8161" stop-color="#ffbc5f"/><stop offset="0.8308" stop-color="#ffa532"/><stop offset="0.8580" stop-color="#ff820a"/><stop offset="0.8853" stop-color="#ff5c00"/><stop offset="0.9088" stop-color="#b93e00"/><stop offset="0.9274" stop-color="#8e2f00"/><stop offset="0.9352" stop-color="#882d00"/></linearGradient><linearGradient id="g26" gradientUnits="userSpaceOnUse" x1="0" y1="0" x2="0" y2="513"><stop offset="0.0588" stop-color="#882d00"/><stop offset="0.0608" stop-color="#943200"/><stop offset="0.0715" stop-color="#9c3400"/><stop offset="0.0806" stop-color="#d24600"/><stop offset="0.0877" stop-color="#ff5c00"/><stop offset="0.1094" stop-color="#ff7a04"/><stop offset="0.1224" stop-color="#ff941a"/><stop offset="0.1311" stop-color="#ffa836"/><stop offset="0.1418" stop-color="#ffc674"/><stop offset="0.1535" stop-color="#ffe0b0"/><stop offset="0.1674" stop-color="#fff1de"/><stop offset="0.1845" stop-color="#ffffff"/><stop offset="0.3989" stop-color="#ffffff"/><stop offset="0.6736" stop-color="#ffffff"/><stop offset="0.7808" stop-color="#ffffff"/><stop offset="0.7906" stop-color="#ffecd0"/><stop offset="0.8034" stop-color="#ffd494"/><stop offset="0.8183" stop-color="#ffbc5f"/><stop offset="0.8332" stop-color="#ffa532"/><stop offset="0.8602" stop-color="#ff820a"/><stop offset="0.8872" stop-color="#ff5c00"/><stop offset="0.9109" stop-color="#b93e00"/><stop offset="0.9285" stop-color="#8e2f00"/><stop offset="0.9363" stop-color="#882d00"/></linearGradient><linearGradient id="g27" gradientUnits="userSpaceOnUse" x1="0" y1="0" x2="0" y2="513"><stop offset="0.0590" stop-color="#882d00"/><stop offset="0.0609" stop-color="#943200"/><stop offset="0.0717" stop-color="#9c3400"/><stop offset="0.0809" stop-color="#d24600"/><stop offset="0.0883" stop-color="#ff5c00"/><stop offset="0.1106" stop-color="#ff7a04"/><stop offset="0.1240" stop-color="#ff941a"/><stop offset="0.1329" stop-color="#ffa836"/><stop offset="0.1434" stop-color="#ffc674"/><stop offset="0.1548" stop-color="#ffe0b0"/><stop offset="0.1683" stop-color="#fff1de"/><stop offset="0.1850" stop-color="#ffffff"/><stop offset="0.3994" stop-color="#ffffff"/><stop offset="0.6753" stop-color="#ffffff"/><stop offset="0.7825" stop-color="#ffffff"/><stop offset="0.7922" stop-color="#ffecd0"/><stop offset="0.8052" stop-color="#ffd494"/><stop offset="0.8204" stop-color="#ffbc5f"/><stop offset="0.8356" stop-color="#ffa532"/><stop offset="0.8624" stop-color="#ff820a"/><stop offset="0.8891" stop-color="#ff5c00"/><stop offset="0.9130" stop-color="#b93e00"/><stop offset="0.9296" stop-color="#8e2f00"/><stop offset="0.9374" stop-color="#882d00"/></linearGradient><linearGradient id="g28" gradientUnits="userSpaceOnUse" x1="0" y1="0" x2="0" y2="513"><stop offset="0.0591" stop-color="#882d00"/><stop offset="0.0611" stop-color="#943200"/><stop offset="0.0718" stop-color="#9c3400"/><stop offset="0.0813" stop-color="#d24600"/><stop offset="0.0888" stop-color="#ff5c00"/><stop offset="0.1118" stop-color="#ff7a04"/><stop offset="0.1256" stop-color="#ff941a"/><stop offset="0.1348" stop-color="#ffa836"/><stop offset="0.1449" stop-color="#ffc674"/><stop offset="0.1561" stop-color="#ffe0b0"/><stop offset="0.1693" stop-color="#fff1de"/><stop offset="0.1855" stop-color="#ffffff"/><stop offset="0.3999" stop-color="#ffffff"/><stop offset="0.6769" stop-color="#ffffff"/><stop offset="0.7841" stop-color="#ffffff"/><stop offset="0.7938" stop-color="#ffecd0"/><stop offset="0.8071" stop-color="#ffd494"/><stop offset="0.8225" stop-color="#ffbc5f"/><stop offset="0.8380" stop-color="#ffa532"/><stop offset="0.8645" stop-color="#ff820a"/><stop offset="0.8911" stop-color="#ff5c00"/><stop offset="0.9151" stop-color="#b93e00"/><stop offset="0.9306" stop-color="#8e2f00"/><stop offset="0.9384" stop-color="#882d00"/></linearGradient><linearGradient id="g29" gradientUnits="userSpaceOnUse" x1="0" y1="0" x2="0" y2="513"><stop offset="0.0593" stop-color="#882d00"/><stop offset="0.0613" stop-color="#943200"/><stop offset="0.0720" stop-color="#9c3400"/><stop offset="0.0817" stop-color="#d24600"/><stop offset="0.0894" stop-color="#ff5c00"/><stop offset="0.1131" stop-color="#ff7a04"/><stop offset="0.1273" stop-color="#ff941a"/><stop offset="0.1367" stop-color="#ffa836"/><stop offset="0.1467" stop-color="#ffc674"/><stop offset="0.1576" stop-color="#ffe0b0"/><stop offset="0.1705" stop-color="#fff1de"/><stop offset="0.1864" stop-color="#ffffff"/><stop offset="0.4009" stop-color="#ffffff"/><stop offset="0.6785" stop-color="#ffffff"/><stop offset="0.7857" stop-color="#ffffff"/><stop offset="0.7954" stop-color="#ffecd0"/><stop offset="0.8089" stop-color="#ffd494"/><stop offset="0.8246" stop-color="#ffbc5f"/><stop offset="0.8403" stop-color="#ffa532"/><stop offset="0.8666" stop-color="#ff820a"/><stop offset="0.8929" stop-color="#ff5c00"/><stop offset="0.9170" stop-color="#b93e00"/><stop offset="0.9316" stop-color="#8e2f00"/><stop offset="0.9394" stop-color="#882d00"/></linearGradient><linearGradient id="g30" gradientUnits="userSpaceOnUse" x1="0" y1="0" x2="0" y2="513"><stop offset="0.0599" stop-color="#882d00"/><stop offset="0.0618" stop-color="#943200"/><stop offset="0.0726" stop-color="#9c3400"/><stop offset="0.0827" stop-color="#d24600"/><stop offset="0.0910" stop-color="#ff5c00"/><stop offset="0.1153" stop-color="#ff7a04"/><stop offset="0.1298" stop-color="#ff941a"/><stop offset="0.1396" stop-color="#ffa836"/><stop offset="0.1493" stop-color="#ffc674"/><stop offset="0.1600" stop-color="#ffe0b0"/><stop offset="0.1727" stop-color="#fff1de"/><stop offset="0.1883" stop-color="#ffffff"/><stop offset="0.4027" stop-color="#ffffff"/><stop offset="0.6795" stop-color="#ffffff"/><stop offset="0.7867" stop-color="#ffffff"/><stop offset="0.7965" stop-color="#ffecd0"/><stop offset="0.8100" stop-color="#ffd494"/><stop offset="0.8257" stop-color="#ffbc5f"/><stop offset="0.8415" stop-color="#ffa532"/><stop offset="0.8678" stop-color="#ff820a"/><stop offset="0.8941" stop-color="#ff5c00"/><stop offset="0.9179" stop-color="#b93e00"/><stop offset="0.9316" stop-color="#8e2f00"/><stop offset="0.9394" stop-color="#882d00"/></linearGradient><linearGradient id="g31" gradientUnits="userSpaceOnUse" x1="0" y1="0" x2="0" y2="513"><stop offset="0.0604" stop-color="#882d00"/><stop offset="0.0624" stop-color="#943200"/><stop offset="0.0731" stop-color="#9c3400"/><stop offset="0.0838" stop-color="#d24600"/><stop offset="0.0925" stop-color="#ff5c00"/><stop offset="0.1175" stop-color="#ff7a04"/><stop offset="0.1324" stop-color="#ff941a"/><stop offset="0.1424" stop-color="#ffa836"/><stop offset="0.1519" stop-color="#ffc674"/><stop offset="0.1624" stop-color="#ffe0b0"/><stop offset="0.1749" stop-color="#fff1de"/><stop offset="0.1901" stop-color="#ffffff"/><stop offset="0.4046" stop-color="#ffffff"/><stop offset="0.6805" stop-color="#ffffff"/><stop offset="0.7878" stop-color="#ffffff"/><stop offset="0.7975" stop-color="#ffecd0"/><stop offset="0.8111" stop-color="#ffd494"/><stop offset="0.8269" stop-color="#ffbc5f"/><stop offset="0.8427" stop-color="#ffa532"/><stop offset="0.8690" stop-color="#ff820a"/><stop offset="0.8953" stop-color="#ff5c00"/><stop offset="0.9187" stop-color="#b93e00"/><stop offset="0.9316" stop-color="#8e2f00"/><stop offset="0.9394" stop-color="#882d00"/></linearGradient><linearGradient id="g32" gradientUnits="userSpaceOnUse" x1="0" y1="0" x2="0" y2="513"><stop offset="0.0610" stop-color="#882d00"/><stop offset="0.0630" stop-color="#943200"/><stop offset="0.0737" stop-color="#9c3400"/><stop offset="0.0849" stop-color="#d24600"/><stop offset="0.0941" stop-color="#ff5c00"/><stop offset="0.1196" stop-color="#ff7a04"/><stop offset="0.1350" stop-color="#ff941a"/><stop offset="0.1452" stop-color="#ffa836"/><stop offset="0.1546" stop-color="#ffc674"/><stop offset="0.1649" stop-color="#ffe0b0"/><stop offset="0.1770" stop-color="#fff1de"/><stop offset="0.1920" stop-color="#ffffff"/><stop offset="0.4064" stop-color="#ffffff"/><stop offset="0.6816" stop-color="#ffffff"/><stop offset="0.7888" stop-color="#ffffff"/><stop offset="0.7986" stop-color="#ffecd0"/><stop offset="0.8121" stop-color="#ffd494"/><stop offset="0.8280" stop-color="#ffbc5f"/><stop offset="0.8438" stop-color="#ffa532"/><stop offset="0.8702" stop-color="#ff820a"/><stop offset="0.8965" stop-color="#ff5c00"/><stop offset="0.9195" stop-color="#b93e00"/><stop offset="0.9316" stop-color="#8e2f00"/><stop offset="0.9394" stop-color="#882d00"/></linearGradient><linearGradient id="g33" gradientUnits="userSpaceOnUse" x1="0" y1="0" x2="0" y2="513"><stop offset="0.0616" stop-color="#882d00"/><stop offset="0.0635" stop-color="#943200"/><stop offset="0.0742" stop-color="#9c3400"/><stop offset="0.0859" stop-color="#d24600"/><stop offset="0.0956" stop-color="#ff5c00"/><stop offset="0.1218" stop-color="#ff7a04"/><stop offset="0.1376" stop-color="#ff941a"/><stop offset="0.1480" stop-color="#ffa836"/><stop offset="0.1572" stop-color="#ffc674"/><stop offset="0.1673" stop-color="#ffe0b0"/><stop offset="0.1792" stop-color="#fff1de"/><stop offset="0.1939" stop-color="#ffffff"/><stop offset="0.4083" stop-color="#ffffff"/><stop offset="0.6826" stop-color="#ffffff"/><stop offset="0.7898" stop-color="#ffffff"/><stop offset="0.7996" stop-color="#ffecd0"/><stop offset="0.8132" stop-color="#ffd494"/><stop offset="0.8291" stop-color="#ffbc5f"/><stop offset="0.8450" stop-color="#ffa532"/><stop offset="0.8714" stop-color="#ff820a"/><stop offset="0.8977" stop-color="#ff5c00"/><stop offset="0.9204" stop-color="#b93e00"/><stop offset="0.9316" stop-color="#8e2f00"/><stop offset="0.9394" stop-color="#882d00"/></linearGradient><linearGradient id="g34" gradientUnits="userSpaceOnUse" x1="0" y1="0" x2="0" y2="513"><stop offset="0.0621" stop-color="#882d00"/><stop offset="0.0641" stop-color="#943200"/><stop offset="0.0748" stop-color="#9c3400"/><stop offset="0.0870" stop-color="#d24600"/><stop offset="0.0972" stop-color="#ff5c00"/><stop offset="0.1240" stop-color="#ff7a04"/><stop offset="0.1401" stop-color="#ff941a"/><stop offset="0.1509" stop-color="#ffa836"/><stop offset="0.1598" stop-color="#ffc674"/><stop offset="0.1697" stop-color="#ffe0b0"/><stop offset="0.1814" stop-color="#fff1de"/><stop offset="0.1957" stop-color="#ffffff"/><stop offset="0.4101" stop-color="#ffffff"/><stop offset="0.6837" stop-color="#ffffff"/><stop offset="0.7909" stop-color="#ffffff"/><stop offset="0.8006" stop-color="#ffecd0"/><stop offset="0.8143" stop-color="#ffd494"/><stop offset="0.8303" stop-color="#ffbc5f"/><stop offset="0.8462" stop-color="#ffa532"/><stop offset="0.8725" stop-color="#ff820a"/><stop offset="0.8989" stop-color="#ff5c00"/><stop offset="0.9212" stop-color="#b93e00"/><stop offset="0.9316" stop-color="#8e2f00"/><stop offset="0.9394" stop-color="#882d00"/></linearGradient><linearGradient id="g35" gradientUnits="userSpaceOnUse" x1="0" y1="0" x2="0" y2="513"><stop offset="0.0627" stop-color="#882d00"/><stop offset="0.0647" stop-color="#943200"/><stop offset="0.0754" stop-color="#9c3400"/><stop offset="0.0880" stop-color="#d24600"/><stop offset="0.0987" stop-color="#ff5c00"/><stop offset="0.1262" stop-color="#ff7a04"/><stop offset="0.1427" stop-color="#ff941a"/><stop offset="0.1537" stop-color="#ffa836"/><stop offset="0.1625" stop-color="#ffc674"/><stop offset="0.1721" stop-color="#ffe0b0"/><stop offset="0.1835" stop-color="#fff1de"/><stop offset="0.1976" stop-color="#ffffff"/><stop offset="0.4120" stop-color="#ffffff"/><stop offset="0.6847" stop-color="#ffffff"/><stop offset="0.7919" stop-color="#ffffff"/><stop offset="0.8017" stop-color="#ffecd0"/><stop offset="0.8154" stop-color="#ffd494"/><stop offset="0.8314" stop-color="#ffbc5f"/><stop offset="0.8474" stop-color="#ffa532"/><stop offset="0.8737" stop-color="#ff820a"/><stop offset="0.9000" stop-color="#ff5c00"/><stop offset="0.9220" stop-color="#b93e00"/><stop offset="0.9316" stop-color="#8e2f00"/><stop offset="0.9394" stop-color="#882d00"/></linearGradient><linearGradient id="g36" gradientUnits="userSpaceOnUse" x1="0" y1="0" x2="0" y2="513"><stop offset="0.0637" stop-color="#882d00"/><stop offset="0.0657" stop-color="#943200"/><stop offset="0.0764" stop-color="#9c3400"/><stop offset="0.0895" stop-color="#d24600"/><stop offset="0.1007" stop-color="#ff5c00"/><stop offset="0.1289" stop-color="#ff7a04"/><stop offset="0.1458" stop-color="#ff941a"/><stop offset="0.1570" stop-color="#ffa836"/><stop offset="0.1656" stop-color="#ffc674"/><stop offset="0.1750" stop-color="#ffe0b0"/><stop offset="0.1862" stop-color="#fff1de"/><stop offset="0.1999" stop-color="#ffffff"/><stop offset="0.4143" stop-color="#ffffff"/><stop offset="0.6855" stop-color="#ffffff"/><stop offset="0.7927" stop-color="#ffffff"/><stop offset="0.8025" stop-color="#ffecd0"/><stop offset="0.8163" stop-color="#ffd494"/><stop offset="0.8324" stop-color="#ffbc5f"/><stop offset="0.8484" stop-color="#ffa532"/><stop offset="0.8746" stop-color="#ff820a"/><stop offset="0.9008" stop-color="#ff5c00"/><stop offset="0.9224" stop-color="#b93e00"/><stop offset="0.9314" stop-color="#8e2f00"/><stop offset="0.9392" stop-color="#882d00"/></linearGradient><linearGradient id="g37" gradientUnits="userSpaceOnUse" x1="0" y1="0" x2="0" y2="513"><stop offset="0.0651" stop-color="#882d00"/><stop offset="0.0671" stop-color="#943200"/><stop offset="0.0778" stop-color="#9c3400"/><stop offset="0.0914" stop-color="#d24600"/><stop offset="0.1031" stop-color="#ff5c00"/><stop offset="0.1319" stop-color="#ff7a04"/><stop offset="0.1492" stop-color="#ff941a"/><stop offset="0.1607" stop-color="#ffa836"/><stop offset="0.1691" stop-color="#ffc674"/><stop offset="0.1783" stop-color="#ffe0b0"/><stop offset="0.1892" stop-color="#fff1de"/><stop offset="0.2026" stop-color="#ffffff"/><stop offset="0.4171" stop-color="#ffffff"/><stop offset="0.6861" stop-color="#ffffff"/><stop offset="0.7933" stop-color="#ffffff"/><stop offset="0.8031" stop-color="#ffecd0"/><stop offset="0.8169" stop-color="#ffd494"/><stop offset="0.8331" stop-color="#ffbc5f"/><stop offset="0.8493" stop-color="#ffa532"/><stop offset="0.8753" stop-color="#ff820a"/><stop offset="0.9013" stop-color="#ff5c00"/><stop offset="0.9224" stop-color="#b93e00"/><stop offset="0.9311" stop-color="#8e2f00"/><stop offset="0.9389" stop-color="#882d00"/></linearGradient><linearGradient id="g38" gradientUnits="userSpaceOnUse" x1="0" y1="0" x2="0" y2="513"><stop offset="0.0665" stop-color="#882d00"/><stop offset="0.0685" stop-color="#943200"/><stop offset="0.0792" stop-color="#9c3400"/><stop offset="0.0933" stop-color="#d24600"/><stop offset="0.1055" stop-color="#ff5c00"/><stop offset="0.1350" stop-color="#ff7a04"/><stop offset="0.1527" stop-color="#ff941a"/><stop offset="0.1645" stop-color="#ffa836"/><stop offset="0.1726" stop-color="#ffc674"/><stop offset="0.1816" stop-color="#ffe0b0"/><stop offset="0.1923" stop-color="#fff1de"/><stop offset="0.2054" stop-color="#ffffff"/><stop offset="0.4198" stop-color="#ffffff"/><stop offset="0.6867" stop-color="#ffffff"/><stop offset="0.7939" stop-color="#ffffff"/><stop offset="0.8037" stop-color="#ffecd0"/><stop offset="0.8176" stop-color="#ffd494"/><stop offset="0.8339" stop-color="#ffbc5f"/><stop offset="0.8502" stop-color="#ffa532"/><stop offset="0.8760" stop-color="#ff820a"/><stop offset="0.9017" stop-color="#ff5c00"/><stop offset="0.9224" stop-color="#b93e00"/><stop offset="0.9308" stop-color="#8e2f00"/><stop offset="0.9386" stop-color="#882d00"/></linearGradient><linearGradient id="g39" gradientUnits="userSpaceOnUse" x1="0" y1="0" x2="0" y2="513"><stop offset="0.0679" stop-color="#882d00"/><stop offset="0.0699" stop-color="#943200"/><stop offset="0.0806" stop-color="#9c3400"/><stop offset="0.0952" stop-color="#d24600"/><stop offset="0.1079" stop-color="#ff5c00"/><stop offset="0.1380" stop-color="#ff7a04"/><stop offset="0.1561" stop-color="#ff941a"/><stop offset="0.1682" stop-color="#ffa836"/><stop offset="0.1763" stop-color="#ffc674"/><stop offset="0.1853" stop-color="#ffe0b0"/><stop offset="0.1958" stop-color="#fff1de"/><stop offset="0.2088" stop-color="#fffdfb"/><stop offset="0.4233" stop-color="#fffefd"/><stop offset="0.6873" stop-color="#fffefd"/><stop offset="0.7945" stop-color="#fffdfa"/><stop offset="0.8043" stop-color="#ffecd0"/><stop offset="0.8183" stop-color="#ffd494"/><stop offset="0.8347" stop-color="#ffbc5f"/><stop offset="0.8511" stop-color="#ffa532"/><stop offset="0.8766" stop-color="#ff820a"/><stop offset="0.9022" stop-color="#ff5c00"/><stop offset="0.9224" stop-color="#b93e00"/><stop offset="0.9305" stop-color="#8e2f00"/><stop offset="0.9383" stop-color="#882d00"/></linearGradient><linearGradient id="g40" gradientUnits="userSpaceOnUse" x1="0" y1="0" x2="0" y2="513"><stop offset="0.0693" stop-color="#882d00"/><stop offset="0.0713" stop-color="#943200"/><stop offset="0.0820" stop-color="#9c3400"/><stop offset="0.0971" stop-color="#d24600"/><stop offset="0.1102" stop-color="#ff5c00"/><stop offset="0.1411" stop-color="#ff7a04"/><stop offset="0.1596" stop-color="#ff941a"/><stop offset="0.1719" stop-color="#ffa836"/><stop offset="0.1800" stop-color="#ffc674"/><stop offset="0.1889" stop-color="#ffe0b0"/><stop offset="0.1994" stop-color="#fff1de"/><stop offset="0.2123" stop-color="#fffbf8"/><stop offset="0.4267" stop-color="#fffdfc"/><stop offset="0.6879" stop-color="#fffdfc"/><stop offset="0.7951" stop-color="#fffbf5"/><stop offset="0.8049" stop-color="#ffecd0"/><stop offset="0.8190" stop-color="#ffd494"/><stop offset="0.8355" stop-color="#ffbc5f"/><stop offset="0.8520" stop-color="#ffa532"/><stop offset="0.8773" stop-color="#ff820a"/><stop offset="0.9026" stop-color="#ff5c00"/><stop offset="0.9224" stop-color="#b93e00"/><stop offset="0.9302" stop-color="#8e2f00"/><stop offset="0.9380" stop-color="#882d00"/></linearGradient><linearGradient id="g41" gradientUnits="userSpaceOnUse" x1="0" y1="0" x2="0" y2="513"><stop offset="0.0707" stop-color="#882d00"/><stop offset="0.0727" stop-color="#943200"/><stop offset="0.0834" stop-color="#9c3400"/><stop offset="0.0990" stop-color="#d24600"/><stop offset="0.1126" stop-color="#ff5c00"/><stop offset="0.1441" stop-color="#ff7a04"/><stop offset="0.1630" stop-color="#ff941a"/><stop offset="0.1756" stop-color="#ffa836"/><stop offset="0.1836" stop-color="#ffc674"/><stop offset="0.1925" stop-color="#ffe0b0"/><stop offset="0.2029" stop-color="#fff1de"/><stop offset="0.2157" stop-color="#fffaf5"/><stop offset="0.4302" stop-color="#fffcfa"/><stop offset="0.6885" stop-color="#fffcfa"/><stop offset="0.7957" stop-color="#fff9f0"/><stop offset="0.8054" stop-color="#ffecd0"/><stop offset="0.8197" stop-color="#ffd494"/><stop offset="0.8363" stop-color="#ffbc5f"/><stop offset="0.8529" stop-color="#ffa532"/><stop offset="0.8780" stop-color="#ff820a"/><stop offset="0.9031" stop-color="#ff5c00"/><stop offset="0.9224" stop-color="#b93e00"/><stop offset="0.9299" stop-color="#8e2f00"/><stop offset="0.9377" stop-color="#882d00"/></linearGradient><linearGradient id="g42" gradientUnits="userSpaceOnUse" x1="0" y1="0" x2="0" y2="513"><stop offset="0.0721" stop-color="#882d00"/><stop offset="0.0741" stop-color="#943200"/><stop offset="0.0848" stop-color="#9c3400"/><stop offset="0.1009" stop-color="#d24600"/><stop offset="0.1150" stop-color="#ff5c00"/><stop offset="0.1472" stop-color="#ff7a04"/><stop offset="0.1665" stop-color="#ff941a"/><stop offset="0.1793" stop-color="#ffa836"/><stop offset="0.1873" stop-color="#ffc674"/><stop offset="0.1961" stop-color="#ffe0b0"/><stop offset="0.2064" stop-color="#fff1de"/><stop offset="0.2192" stop-color="#fff8f2"/><stop offset="0.4336" stop-color="#fffbf8"/><stop offset="0.6891" stop-color="#fffbf8"/><stop offset="0.7963" stop-color="#fff7eb"/><stop offset="0.8060" stop-color="#ffecd0"/><stop offset="0.8204" stop-color="#ffd494"/><stop offset="0.8371" stop-color="#ffbc5f"/><stop offset="0.8538" stop-color="#ffa532"/><stop offset="0.8787" stop-color="#ff820a"/><stop offset="0.9035" stop-color="#ff5c00"/><stop offset="0.9224" stop-color="#b93e00"/><stop offset="0.9296" stop-color="#8e2f00"/><stop offset="0.9374" stop-color="#882d00"/></linearGradient><linearGradient id="g43" gradientUnits="userSpaceOnUse" x1="0" y1="0" x2="0" y2="513"><stop offset="0.0744" stop-color="#882d00"/><stop offset="0.0763" stop-color="#943200"/><stop offset="0.0870" stop-color="#9c3400"/><stop offset="0.1036" stop-color="#d24600"/><stop offset="0.1182" stop-color="#ff5c00"/><stop offset="0.1508" stop-color="#ff7a04"/><stop offset="0.1705" stop-color="#ff941a"/><stop offset="0.1835" stop-color="#ffa836"/><stop offset="0.1915" stop-color="#ffc674"/><stop offset="0.2002" stop-color="#ffe0b0"/><stop offset="0.2104" stop-color="#fff1de"/><stop offset="0.2231" stop-color="#fff7ef"/><stop offset="0.4375" stop-color="#fffaf6"/><stop offset="0.6894" stop-color="#fffaf6"/><stop offset="0.7966" stop-color="#fff5e7"/><stop offset="0.8063" stop-color="#ffecd0"/><stop offset="0.8209" stop-color="#ffd494"/><stop offset="0.8378" stop-color="#ffbc5f"/><stop offset="0.8547" stop-color="#ffa532"/><stop offset="0.8792" stop-color="#ff820a"/><stop offset="0.9037" stop-color="#ff5c00"/><stop offset="0.9223" stop-color="#b93e00"/><stop offset="0.9295" stop-color="#8e2f00"/><stop offset="0.9373" stop-color="#882d00"/></linearGradient><linearGradient id="g44" gradientUnits="userSpaceOnUse" x1="0" y1="0" x2="0" y2="513"><stop offset="0.0766" stop-color="#882d00"/><stop offset="0.0786" stop-color="#943200"/><stop offset="0.0893" stop-color="#9c3400"/><stop offset="0.1063" stop-color="#d24600"/><stop offset="0.1213" stop-color="#ff5c00"/><stop offset="0.1545" stop-color="#ff7a04"/><stop offset="0.1744" stop-color="#ff941a"/><stop offset="0.1877" stop-color="#ffa836"/><stop offset="0.1956" stop-color="#ffc674"/><stop offset="0.2042" stop-color="#ffe0b0"/><stop offset="0.2145" stop-color="#fff1de"/><stop offset="0.2270" stop-color="#fff5ec"/><stop offset="0.4415" stop-color="#fff9f4"/><stop offset="0.6897" stop-color="#fff9f4"/><stop offset="0.7969" stop-color="#fff3e2"/><stop offset="0.8066" stop-color="#ffecd0"/><stop offset="0.8213" stop-color="#ffd494"/><stop offset="0.8385" stop-color="#ffbc5f"/><stop offset="0.8556" stop-color="#ffa532"/><stop offset="0.8797" stop-color="#ff820a"/><stop offset="0.9038" stop-color="#ff5c00"/><stop offset="0.9222" stop-color="#b93e00"/><stop offset="0.9294" stop-color="#8e2f00"/><stop offset="0.9372" stop-color="#882d00"/></linearGradient><linearGradient id="g45" gradientUnits="userSpaceOnUse" x1="0" y1="0" x2="0" y2="513"><stop offset="0.0789" stop-color="#882d00"/><stop offset="0.0808" stop-color="#943200"/><stop offset="0.0915" stop-color="#9c3400"/><stop offset="0.1090" stop-color="#d24600"/><stop offset="0.1245" stop-color="#ff5c00"/><stop offset="0.1582" stop-color="#ff7a04"/><stop offset="0.1784" stop-color="#ff941a"/><stop offset="0.1919" stop-color="#ffa836"/><stop offset="0.1997" stop-color="#ffc674"/><stop offset="0.2083" stop-color="#ffe0b0"/><stop offset="0.2185" stop-color="#fff1de"/><stop offset="0.2310" stop-color="#fff3e9"/><stop offset="0.4454" stop-color="#fff8f2"/><stop offset="0.6900" stop-color="#fff8f2"/><stop offset="0.7972" stop-color="#fff1dd"/><stop offset="0.8069" stop-color="#ffecd0"/><stop offset="0.8218" stop-color="#ffd494"/><stop offset="0.8392" stop-color="#ffbc5f"/><stop offset="0.8565" stop-color="#ffa532"/><stop offset="0.8802" stop-color="#ff820a"/><stop offset="0.9040" stop-color="#ff5c00"/><stop offset="0.9221" stop-color="#b93e00"/><stop offset="0.9293" stop-color="#8e2f00"/><stop offset="0.9371" stop-color="#882d00"/></linearGradient><linearGradient id="g46" gradientUnits="userSpaceOnUse" x1="0" y1="0" x2="0" y2="513"><stop offset="0.0811" stop-color="#882d00"/><stop offset="0.0831" stop-color="#943200"/><stop offset="0.0938" stop-color="#9c3400"/><stop offset="0.1117" stop-color="#d24600"/><stop offset="0.1276" stop-color="#ff5c00"/><stop offset="0.1619" stop-color="#ff7a04"/><stop offset="0.1824" stop-color="#ff941a"/><stop offset="0.1961" stop-color="#ffa836"/><stop offset="0.2039" stop-color="#ffc674"/><stop offset="0.2124" stop-color="#ffe0b0"/><stop offset="0.2225" stop-color="#fff1de"/><stop offset="0.2349" stop-color="#fff2e6"/><stop offset="0.4493" stop-color="#fff7f0"/><stop offset="0.6903" stop-color="#fff7f0"/><stop offset="0.7975" stop-color="#ffefd8"/><stop offset="0.8072" stop-color="#ffecd0"/><stop offset="0.8223" stop-color="#ffd494"/><stop offset="0.8398" stop-color="#ffbc5f"/><stop offset="0.8574" stop-color="#ffa532"/><stop offset="0.8808" stop-color="#ff820a"/><stop offset="0.9041" stop-color="#ff5c00"/><stop offset="0.9219" stop-color="#b93e00"/><stop offset="0.9291" stop-color="#8e2f00"/><stop offset="0.9369" stop-color="#882d00"/></linearGradient><linearGradient id="g47" gradientUnits="userSpaceOnUse" x1="0" y1="0" x2="0" y2="513"><stop offset="0.0834" stop-color="#882d00"/><stop offset="0.0853" stop-color="#943200"/><stop offset="0.0960" stop-color="#9c3400"/><stop offset="0.1144" stop-color="#d24600"/><stop offset="0.1308" stop-color="#ff5c00"/><stop offset="0.1655" stop-color="#ff7a04"/><stop offset="0.1864" stop-color="#ff941a"/><stop offset="0.2003" stop-color="#ffa836"/><stop offset="0.2080" stop-color="#ffc674"/><stop offset="0.2165" stop-color="#ffe0b0"/><stop offset="0.2265" stop-color="#fff1de"/><stop offset="0.2388" stop-color="#fff0e3"/><stop offset="0.4532" stop-color="#fff6ee"/><stop offset="0.6906" stop-color="#fff6ee"/><stop offset="0.7978" stop-color="#ffedd3"/><stop offset="0.8075" stop-color="#ffecd0"/><stop offset="0.8228" stop-color="#ffd494"/><stop offset="0.8405" stop-color="#ffbc5f"/><stop offset="0.8583" stop-color="#ffa532"/><stop offset="0.8813" stop-color="#ff820a"/><stop offset="0.9043" stop-color="#ff5c00"/><stop offset="0.9218" stop-color="#b93e00"/><stop offset="0.9290" stop-color="#8e2f00"/><stop offset="0.9368" stop-color="#882d00"/></linearGradient><linearGradient id="g48" gradientUnits="userSpaceOnUse" x1="0" y1="0" x2="0" y2="513"><stop offset="0.0856" stop-color="#882d00"/><stop offset="0.0876" stop-color="#943200"/><stop offset="0.0983" stop-color="#9c3400"/><stop offset="0.1171" stop-color="#d24600"/><stop offset="0.1339" stop-color="#ff5c00"/><stop offset="0.1692" stop-color="#ff7a04"/><stop offset="0.1904" stop-color="#ff941a"/><stop offset="0.2045" stop-color="#ffa836"/><stop offset="0.2122" stop-color="#ffc674"/><stop offset="0.2206" stop-color="#ffe0b0"/><stop offset="0.2305" stop-color="#fff1de"/><stop offset="0.2427" stop-color="#ffefe0"/><stop offset="0.4572" stop-color="#fff5ec"/><stop offset="0.6909" stop-color="#fff5ec"/><stop offset="0.7981" stop-color="#ffebcf"/><stop offset="0.8078" stop-color="#ffecd0"/><stop offset="0.8232" stop-color="#ffd494"/><stop offset="0.8412" stop-color="#ffbc5f"/><stop offset="0.8592" stop-color="#ffa532"/><stop offset="0.8818" stop-color="#ff820a"/><stop offset="0.9044" stop-color="#ff5c00"/><stop offset="0.9217" stop-color="#b93e00"/><stop offset="0.9289" stop-color="#8e2f00"/><stop offset="0.9367" stop-color="#882d00"/></linearGradient><linearGradient id="g49" gradientUnits="userSpaceOnUse" x1="0" y1="0" x2="0" y2="513"><stop offset="0.0885" stop-color="#882d00"/><stop offset="0.0905" stop-color="#943200"/><stop offset="0.1012" stop-color="#9c3400"/><stop offset="0.1204" stop-color="#d24600"/><stop offset="0.1376" stop-color="#ff5c00"/><stop offset="0.1734" stop-color="#ff7a04"/><stop offset="0.1948" stop-color="#ff941a"/><stop offset="0.2091" stop-color="#ffa836"/><stop offset="0.2167" stop-color="#ffc674"/><stop offset="0.2250" stop-color="#ffe0b0"/><stop offset="0.2349" stop-color="#fff1de"/><stop offset="0.2471" stop-color="#ffeddd"/><stop offset="0.4615" stop-color="#fff4ea"/><stop offset="0.6910" stop-color="#fff4ea"/><stop offset="0.7982" stop-color="#ffe9ca"/><stop offset="0.8080" stop-color="#ffecd0"/><stop offset="0.8236" stop-color="#ffd494"/><stop offset="0.8419" stop-color="#ffbc5f"/><stop offset="0.8602" stop-color="#ffa532"/><stop offset="0.8823" stop-color="#ff820a"/><stop offset="0.9044" stop-color="#ff5c00"/><stop offset="0.9214" stop-color="#b93e00"/><stop offset="0.9288" stop-color="#8e2f00"/><stop offset="0.9366" stop-color="#882d00"/></linearGradient><linearGradient id="g50" gradientUnits="userSpaceOnUse" x1="0" y1="0" x2="0" y2="513"><stop offset="0.0920" stop-color="#882d00"/><stop offset="0.0940" stop-color="#943200"/><stop offset="0.1047" stop-color="#9c3400"/><stop offset="0.1243" stop-color="#d24600"/><stop offset="0.1419" stop-color="#ff5c00"/><stop offset="0.1780" stop-color="#ff7a04"/><stop offset="0.1996" stop-color="#ff941a"/><stop offset="0.2141" stop-color="#ffa836"/><stop offset="0.2216" stop-color="#ffc674"/><stop offset="0.2299" stop-color="#ffe0b0"/><stop offset="0.2397" stop-color="#fff1de"/><stop offset="0.2517" stop-color="#ffebda"/><stop offset="0.4662" stop-color="#fff3e8"/><stop offset="0.6910" stop-color="#fff3e8"/><stop offset="0.7982" stop-color="#ffe7c5"/><stop offset="0.8080" stop-color="#ffecd0"/><stop offset="0.8240" stop-color="#ffd494"/><stop offset="0.8426" stop-color="#ffbc5f"/><stop offset="0.8612" stop-color="#ffa532"/><stop offset="0.8828" stop-color="#ff820a"/><stop offset="0.9044" stop-color="#ff5c00"/><stop offset="0.9209" stop-color="#b93e00"/><stop offset="0.9286" stop-color="#8e2f00"/><stop offset="0.9364" stop-color="#882d00"/></linearGradient><linearGradient id="g51" gradientUnits="userSpaceOnUse" x1="0" y1="0" x2="0" y2="513"><stop offset="0.0956" stop-color="#882d00"/><stop offset="0.0975" stop-color="#943200"/><stop offset="0.1082" stop-color="#9c3400"/><stop offset="0.1282" stop-color="#d24600"/><stop offset="0.1462" stop-color="#ff5c00"/><stop offset="0.1826" stop-color="#ff7a04"/><stop offset="0.2045" stop-color="#ff941a"/><stop offset="0.2190" stop-color="#ffa836"/><stop offset="0.2265" stop-color="#ffc674"/><stop offset="0.2347" stop-color="#ffe0b0"/><stop offset="0.2445" stop-color="#fff1de"/><stop offset="0.2564" stop-color="#ffead7"/><stop offset="0.4708" stop-color="#fff2e6"/><stop offset="0.6910" stop-color="#fff2e6"/><stop offset="0.7982" stop-color="#ffe5c0"/><stop offset="0.8080" stop-color="#ffecd0"/><stop offset="0.8243" stop-color="#ffd494"/><stop offset="0.8432" stop-color="#ffbc5f"/><stop offset="0.8622" stop-color="#ffa532"/><stop offset="0.8833" stop-color="#ff820a"/><stop offset="0.9043" stop-color="#ff5c00"/><stop offset="0.9204" stop-color="#b93e00"/><stop offset="0.9284" stop-color="#8e2f00"/><stop offset="0.9362" stop-color="#882d00"/></linearGradient><linearGradient id="g52" gradientUnits="userSpaceOnUse" x1="0" y1="0" x2="0" y2="513"><stop offset="0.0991" stop-color="#882d00"/><stop offset="0.1010" stop-color="#943200"/><stop offset="0.1117" stop-color="#9c3400"/><stop offset="0.1321" stop-color="#d24600"/><stop offset="0.1504" stop-color="#ff5c00"/><stop offset="0.1872" stop-color="#ff7a04"/><stop offset="0.2093" stop-color="#ff941a"/><stop offset="0.2240" stop-color="#ffa836"/><stop offset="0.2314" stop-color="#ffc674"/><stop offset="0.2396" stop-color="#ffe0b0"/><stop offset="0.2492" stop-color="#fff1de"/><stop offset="0.2611" stop-color="#ffe8d4"/><stop offset="0.4755" stop-color="#fff1e4"/><stop offset="0.6910" stop-color="#fff1e4"/><stop offset="0.7982" stop-color="#ffe3bb"/><stop offset="0.8080" stop-color="#ffecd0"/><stop offset="0.8246" stop-color="#ffd494"/><stop offset="0.8439" stop-color="#ffbc5f"/><stop offset="0.8632" stop-color="#ffa532"/><stop offset="0.8837" stop-color="#ff820a"/><stop offset="0.9042" stop-color="#ff5c00"/><stop offset="0.9198" stop-color="#b93e00"/><stop offset="0.9283" stop-color="#8e2f00"/><stop offset="0.9360" stop-color="#882d00"/></linearGradient><linearGradient id="g53" gradientUnits="userSpaceOnUse" x1="0" y1="0" x2="0" y2="513"><stop offset="0.1026" stop-color="#882d00"/><stop offset="0.1045" stop-color="#943200"/><stop offset="0.1153" stop-color="#9c3400"/><stop offset="0.1360" stop-color="#d24600"/><stop offset="0.1547" stop-color="#ff5c00"/><stop offset="0.1918" stop-color="#ff7a04"/><stop offset="0.2141" stop-color="#ff941a"/><stop offset="0.2289" stop-color="#ffa836"/><stop offset="0.2363" stop-color="#ffc674"/><stop offset="0.2444" stop-color="#ffe0b0"/><stop offset="0.2540" stop-color="#fff1de"/><stop offset="0.2658" stop-color="#ffe7d1"/><stop offset="0.4802" stop-color="#fff0e2"/><stop offset="0.6910" stop-color="#fff0e2"/><stop offset="0.7982" stop-color="#ffe1b7"/><stop offset="0.8080" stop-color="#ffecd0"/><stop offset="0.8249" stop-color="#ffd494"/><stop offset="0.8446" stop-color="#ffbc5f"/><stop offset="0.8643" stop-color="#ffa532"/><stop offset="0.8842" stop-color="#ff820a"/><stop offset="0.9042" stop-color="#ff5c00"/><stop offset="0.9193" stop-color="#b93e00"/><stop offset="0.9281" stop-color="#8e2f00"/><stop offset="0.9359" stop-color="#882d00"/></linearGradient><linearGradient id="g54" gradientUnits="userSpaceOnUse" x1="0" y1="0" x2="0" y2="513"><stop offset="0.1061" stop-color="#882d00"/><stop offset="0.1081" stop-color="#943200"/><stop offset="0.1188" stop-color="#9c3400"/><stop offset="0.1399" stop-color="#d24600"/><stop offset="0.1590" stop-color="#ff5c00"/><stop offset="0.1964" stop-color="#ff7a04"/><stop offset="0.2189" stop-color="#ff941a"/><stop offset="0.2339" stop-color="#ffa836"/><stop offset="0.2412" stop-color="#ffc674"/><stop offset="0.2493" stop-color="#ffe0b0"/><stop offset="0.2588" stop-color="#fff1de"/><stop offset="0.2705" stop-color="#ffe7d1"/><stop offset="0.4849" stop-color="#fff0e2"/><stop offset="0.6910" stop-color="#fff0e2"/><stop offset="0.7982" stop-color="#ffe1b7"/><stop offset="0.8080" stop-color="#ffecd0"/><stop offset="0.8252" stop-color="#ffd494"/><stop offset="0.8452" stop-color="#ffbc5f"/><stop offset="0.8653" stop-color="#ffa532"/><stop offset="0.8847" stop-color="#ff820a"/><stop offset="0.9041" stop-color="#ff5c00"/><stop offset="0.9188" stop-color="#b93e00"/><stop offset="0.9279" stop-color="#8e2f00"/><stop offset="0.9357" stop-color="#882d00"/></linearGradient><linearGradient id="g55" gradientUnits="userSpaceOnUse" x1="0" y1="0" x2="0" y2="513"><stop offset="0.1102" stop-color="#882d00"/><stop offset="0.1122" stop-color="#943200"/><stop offset="0.1229" stop-color="#9c3400"/><stop offset="0.1446" stop-color="#d24600"/><stop offset="0.1644" stop-color="#ff5c00"/><stop offset="0.2018" stop-color="#ff7a04"/><stop offset="0.2243" stop-color="#ff941a"/><stop offset="0.2393" stop-color="#ffa836"/><stop offset="0.2465" stop-color="#ffc674"/><stop offset="0.2545" stop-color="#ffe0b0"/><stop offset="0.2640" stop-color="#fff1de"/><stop offset="0.2756" stop-color="#fee2c6"/><stop offset="0.4900" stop-color="#fde8d4"/><stop offset="0.6910" stop-color="#fde8d4"/><stop offset="0.7982" stop-color="#fedeb8"/><stop offset="0.8080" stop-color="#ffecd0"/><stop offset="0.8254" stop-color="#ffd494"/><stop offset="0.8458" stop-color="#ffbc5f"/><stop offset="0.8661" stop-color="#ffa532"/><stop offset="0.8851" stop-color="#ff820a"/><stop offset="0.9040" stop-color="#ff5c00"/><stop offset="0.9184" stop-color="#b93e00"/><stop offset="0.9277" stop-color="#8e2f00"/><stop offset="0.9355" stop-color="#882d00"/></linearGradient><linearGradient id="g56" gradientUnits="userSpaceOnUse" x1="0" y1="0" x2="0" y2="513"><stop offset="0.1145" stop-color="#882d00"/><stop offset="0.1164" stop-color="#943200"/><stop offset="0.1271" stop-color="#9c3400"/><stop offset="0.1496" stop-color="#d24600"/><stop offset="0.1701" stop-color="#ff5c00"/><stop offset="0.2074" stop-color="#ff7a04"/><stop offset="0.2298" stop-color="#ff941a"/><stop offset="0.2448" stop-color="#ffa836"/><stop offset="0.2520" stop-color="#ffc674"/><stop offset="0.2599" stop-color="#ffe0b0"/><stop offset="0.2693" stop-color="#fff1de"/><stop offset="0.2808" stop-color="#fee2c6"/><stop offset="0.4952" stop-color="#fde8d4"/><stop offset="0.6910" stop-color="#fde8d4"/><stop offset="0.7982" stop-color="#fedeb8"/><stop offset="0.8080" stop-color="#ffecd0"/><stop offset="0.8257" stop-color="#ffd494"/><stop offset="0.8463" stop-color="#ffbc5f"/><stop offset="0.8669" stop-color="#ffa532"/><stop offset="0.8854" stop-color="#ff820a"/><stop offset="0.9039" stop-color="#ff5c00"/><stop offset="0.9181" stop-color="#b93e00"/><stop offset="0.9275" stop-color="#8e2f00"/><stop offset="0.9353" stop-color="#882d00"/></linearGradient><linearGradient id="g57" gradientUnits="userSpaceOnUse" x1="0" y1="0" x2="0" y2="513"><stop offset="0.1187" stop-color="#882d00"/><stop offset="0.1206" stop-color="#943200"/><stop offset="0.1314" stop-color="#9c3400"/><stop offset="0.1545" stop-color="#d24600"/><stop offset="0.1757" stop-color="#ff5c00"/><stop offset="0.2130" stop-color="#ff7a04"/><stop offset="0.2354" stop-color="#ff941a"/><stop offset="0.2503" stop-color="#ffa836"/><stop offset="0.2574" stop-color="#ffc674"/><stop offset="0.2653" stop-color="#ffe0b0"/><stop offset="0.2746" stop-color="#fff1de"/><stop offset="0.2860" stop-color="#fee2c6"/><stop offset="0.5005" stop-color="#fde8d4"/><stop offset="0.6910" stop-color="#fde8d4"/><stop offset="0.7982" stop-color="#fedeb8"/><stop offset="0.8080" stop-color="#ffecd0"/><stop offset="0.8259" stop-color="#ffd494"/><stop offset="0.8467" stop-color="#ffbc5f"/><stop offset="0.8676" stop-color="#ffa532"/><stop offset="0.8857" stop-color="#ff820a"/><stop offset="0.9038" stop-color="#ff5c00"/><stop offset="0.9178" stop-color="#b93e00"/><stop offset="0.9272" stop-color="#8e2f00"/><stop offset="0.9350" stop-color="#882d00"/></linearGradient><linearGradient id="g58" gradientUnits="userSpaceOnUse" x1="0" y1="0" x2="0" y2="513"><stop offset="0.1229" stop-color="#882d00"/><stop offset="0.1249" stop-color="#943200"/><stop offset="0.1356" stop-color="#9c3400"/><stop offset="0.1595" stop-color="#d24600"/><stop offset="0.1814" stop-color="#ff5c00"/><stop offset="0.2186" stop-color="#ff7a04"/><stop offset="0.2409" stop-color="#ff941a"/><stop offset="0.2557" stop-color="#ffa836"/><stop offset="0.2628" stop-color="#ffc674"/><stop offset="0.2707" stop-color="#ffe0b0"/><stop offset="0.2799" stop-color="#fff1de"/><stop offset="0.2912" stop-color="#fee2c6"/><stop offset="0.5057" stop-color="#fde8d4"/><stop offset="0.6910" stop-color="#fde8d4"/><stop offset="0.7982" stop-color="#fedeb8"/><stop offset="0.8080" stop-color="#ffecd0"/><stop offset="0.8261" stop-color="#ffd494"/><stop offset="0.8472" stop-color="#ffbc5f"/><stop offset="0.8684" stop-color="#ffa532"/><stop offset="0.8860" stop-color="#ff820a"/><stop offset="0.9037" stop-color="#ff5c00"/><stop offset="0.9174" stop-color="#b93e00"/><stop offset="0.9270" stop-color="#8e2f00"/><stop offset="0.9348" stop-color="#882d00"/></linearGradient><linearGradient id="g59" gradientUnits="userSpaceOnUse" x1="0" y1="0" x2="0" y2="513"><stop offset="0.1272" stop-color="#882d00"/><stop offset="0.1291" stop-color="#943200"/><stop offset="0.1398" stop-color="#9c3400"/><stop offset="0.1644" stop-color="#d24600"/><stop offset="0.1871" stop-color="#ff5c00"/><stop offset="0.2242" stop-color="#ff7a04"/><stop offset="0.2464" stop-color="#ff941a"/><stop offset="0.2612" stop-color="#ffa836"/><stop offset="0.2683" stop-color="#ffc674"/><stop offset="0.2760" stop-color="#ffe0b0"/><stop offset="0.2852" stop-color="#fff1de"/><stop offset="0.2965" stop-color="#fee2c6"/><stop offset="0.5109" stop-color="#fde8d4"/><stop offset="0.6910" stop-color="#fde8d4"/><stop offset="0.7982" stop-color="#fedeb8"/><stop offset="0.8080" stop-color="#ffecd0"/><stop offset="0.8263" stop-color="#ffd494"/><stop offset="0.8477" stop-color="#ffbc5f"/><stop offset="0.8691" stop-color="#ffa532"/><stop offset="0.8863" stop-color="#ff820a"/><stop offset="0.9035" stop-color="#ff5c00"/><stop offset="0.9171" stop-color="#b93e00"/><stop offset="0.9268" stop-color="#8e2f00"/><stop offset="0.9346" stop-color="#882d00"/></linearGradient></defs>
<rect width="694" height="513" fill="#fff"/>
<g shape-rendering="crispEdges"><rect x="3" y="1" width="2" height="512" fill="url(#g0)"/><rect x="5" y="1" width="2" height="512" fill="url(#g1)"/><rect x="7" y="1" width="2" height="512" fill="url(#g2)"/><rect x="9" y="1" width="2" height="512" fill="url(#g3)"/><rect x="11" y="1" width="2" height="512" fill="url(#g4)"/><rect x="13" y="1" width="2" height="512" fill="url(#g5)"/><rect x="15" y="1" width="2" height="512" fill="url(#g6)"/><rect x="17" y="1" width="2" height="512" fill="url(#g7)"/><rect x="19" y="1" width="2" height="512" fill="url(#g8)"/><rect x="21" y="1" width="2" height="512" fill="url(#g9)"/><rect x="23" y="1" width="2" height="512" fill="url(#g10)"/><rect x="25" y="1" width="2" height="512" fill="url(#g11)"/><rect x="27" y="1" width="2" height="512" fill="url(#g12)"/><rect x="29" y="1" width="2" height="512" fill="url(#g13)"/><rect x="31" y="1" width="2" height="512" fill="url(#g14)"/><rect x="33" y="1" width="2" height="512" fill="url(#g15)"/><rect x="35" y="1" width="2" height="512" fill="url(#g16)"/><rect x="37" y="1" width="2" height="512" fill="url(#g17)"/><rect x="39" y="1" width="2" height="512" fill="url(#g18)"/><rect x="41" y="1" width="2" height="512" fill="url(#g19)"/><rect x="43" y="1" width="2" height="512" fill="url(#g20)"/><rect x="45" y="1" width="2" height="512" fill="url(#g21)"/><rect x="47" y="1" width="2" height="512" fill="url(#g22)"/><rect x="49" y="1" width="2" height="512" fill="url(#g23)"/><rect x="51" y="1" width="2" height="512" fill="url(#g24)"/><rect x="53" y="1" width="2" height="512" fill="url(#g25)"/><rect x="55" y="1" width="2" height="512" fill="url(#g26)"/><rect x="57" y="1" width="2" height="512" fill="url(#g27)"/><rect x="59" y="1" width="2" height="512" fill="url(#g28)"/><rect x="61" y="1" width="2" height="512" fill="url(#g29)"/><rect x="63" y="1" width="2" height="512" fill="url(#g30)"/><rect x="65" y="1" width="2" height="512" fill="url(#g31)"/><rect x="67" y="1" width="2" height="512" fill="url(#g32)"/><rect x="69" y="1" width="2" height="512" fill="url(#g33)"/><rect x="71" y="1" width="2" height="512" fill="url(#g34)"/><rect x="73" y="1" width="2" height="512" fill="url(#g35)"/><rect x="75" y="1" width="2" height="512" fill="url(#g36)"/><rect x="77" y="1" width="2" height="512" fill="url(#g37)"/><rect x="79" y="1" width="2" height="512" fill="url(#g38)"/><rect x="81" y="1" width="2" height="512" fill="url(#g39)"/><rect x="83" y="1" width="2" height="512" fill="url(#g40)"/><rect x="85" y="1" width="2" height="512" fill="url(#g41)"/><rect x="87" y="1" width="2" height="512" fill="url(#g42)"/><rect x="89" y="1" width="2" height="512" fill="url(#g43)"/><rect x="91" y="1" width="2" height="512" fill="url(#g44)"/><rect x="93" y="1" width="2" height="512" fill="url(#g45)"/><rect x="95" y="1" width="2" height="512" fill="url(#g46)"/><rect x="97" y="1" width="2" height="512" fill="url(#g47)"/><rect x="99" y="1" width="2" height="512" fill="url(#g48)"/><rect x="101" y="1" width="2" height="512" fill="url(#g49)"/><rect x="103" y="1" width="2" height="512" fill="url(#g50)"/><rect x="105" y="1" width="2" height="512" fill="url(#g51)"/><rect x="107" y="1" width="2" height="512" fill="url(#g52)"/><rect x="109" y="1" width="2" height="512" fill="url(#g53)"/><rect x="111" y="1" width="2" height="512" fill="url(#g54)"/><rect x="113" y="1" width="2" height="512" fill="url(#g55)"/><rect x="115" y="1" width="2" height="512" fill="url(#g56)"/><rect x="117" y="1" width="2" height="512" fill="url(#g57)"/><rect x="119" y="1" width="2" height="512" fill="url(#g58)"/><rect x="121" y="1" width="2" height="512" fill="url(#g59)"/></g>
<rect x="0" y="1" width="3" height="512" fill="#000"/>
<rect x="123" y="1" width="5.8" height="512" fill="#000"/>
<rect x="11.8" y="1" width="1.4" height="509.7" fill="#00ff00"/>
<rect x="62" y="1" width="1.05" height="509.7" fill="#000"/>
<rect x="112" y="1" width="1.2" height="509.7" fill="#0a0ae0"/>
<path d="M121.8 236.5 H196" stroke="#000" stroke-width="1.2" fill="none"/>
<path d="M211.2 236.2 L187.8 230.9 L193.2 236.2 L187.8 241.2 Z" fill="#000"/>
<g shape-rendering="crispEdges">
<path d="M357 140.5 V202.5" stroke="#000" stroke-width="4" fill="none"/>
<path d="M350.5 197 L357 200.5 L363.5 197 L357.4 221 L356.6 221 Z" fill="#000"/>
<path d="M583.6 129 V202.5" stroke="#000" stroke-width="3.4" fill="none"/>
<path d="M577.1 197 L583.6 200.5 L590.1 197 L584 221 L583.2 221 Z" fill="#000"/>
<path d="M381.6 235.6 V206.5" stroke="#00f" stroke-width="3.2" fill="none"/>
<path d="M375.1 212 L381.6 208.5 L388.1 212 L382 188 L381.2 188 Z" fill="#00f"/>
<path d="M560.7 235.2 V206.5" stroke="#00f" stroke-width="3" fill="none"/>
<path d="M554.2 212 L560.7 208.5 L567.2 212 L561.1 188 L560.3 188 Z" fill="#00f"/>
</g>
<path fill="#000" fill-rule="evenodd" d="M282.6 27.4 H667.8 V412.5 H282.6 Z M285.8 30.3 V409.3 H664.9 V30.3 Z"/>
<path d="M300.5 410.7 v-5.8 M300.5 28.9 v5.8 M316.7 410.7 v-5.8 M316.7 28.9 v5.8 M333 410.7 v-5.8 M333 28.9 v5.8 M349.3 410.7 v-5.8 M349.3 28.9 v5.8 M365.5 410.7 v-11 M365.5 28.9 v11 M381.8 410.7 v-5.8 M381.8 28.9 v5.8 M398 410.7 v-5.8 M398 28.9 v5.8 M414.3 410.7 v-5.8 M414.3 28.9 v5.8 M430.6 410.7 v-5.8 M430.6 28.9 v5.8 M446.8 410.7 v-11 M446.8 28.9 v11 M463.1 410.7 v-5.8 M463.1 28.9 v5.8 M479.4 410.7 v-5.8 M479.4 28.9 v5.8 M495.6 410.7 v-5.8 M495.6 28.9 v5.8 M511.9 410.7 v-5.8 M511.9 28.9 v5.8 M528.2 410.7 v-11 M528.2 28.9 v11 M544.4 410.7 v-5.8 M544.4 28.9 v5.8 M560.7 410.7 v-5.8 M560.7 28.9 v5.8 M576.9 410.7 v-5.8 M576.9 28.9 v5.8 M593.2 410.7 v-5.8 M593.2 28.9 v5.8 M609.5 410.7 v-11 M609.5 28.9 v11 M625.7 410.7 v-5.8 M625.7 28.9 v5.8 M642 410.7 v-5.8 M642 28.9 v5.8 M658.3 410.7 v-5.8 M658.3 28.9 v5.8 M284.2 394.8 h5.8 M666.4 394.8 h-5.8 M284.2 378.9 h5.8 M666.4 378.9 h-5.8 M284.2 363 h5.8 M666.4 363 h-5.8 M284.2 347.1 h11 M666.4 347.1 h-11 M284.2 331.2 h5.8 M666.4 331.2 h-5.8 M284.2 315.2 h5.8 M666.4 315.2 h-5.8 M284.2 299.3 h5.8 M666.4 299.3 h-5.8 M284.2 283.4 h11 M666.4 283.4 h-11 M284.2 267.5 h5.8 M666.4 267.5 h-5.8 M284.2 251.6 h5.8 M666.4 251.6 h-5.8 M284.2 235.7 h5.8 M666.4 235.7 h-5.8 M284.2 219.8 h11 M666.4 219.8 h-11 M284.2 203.9 h5.8 M666.4 203.9 h-5.8 M284.2 188 h5.8 M666.4 188 h-5.8 M284.2 172.1 h5.8 M666.4 172.1 h-5.8 M284.2 156.2 h11 M666.4 156.2 h-11 M284.2 140.3 h5.8 M666.4 140.3 h-5.8 M284.2 124.3 h5.8 M666.4 124.3 h-5.8 M284.2 108.4 h5.8 M666.4 108.4 h-5.8 M284.2 92.5 h11 M666.4 92.5 h-11 M284.2 76.6 h5.8 M666.4 76.6 h-5.8 M284.2 60.7 h5.8 M666.4 60.7 h-5.8 M284.2 44.8 h5.8 M666.4 44.8 h-5.8" stroke="#000" fill="none" stroke-width="3.2"/>
<g shape-rendering="crispEdges"><g fill="#000000" stroke="#000000"><polyline points="282.6,400.4 303,400.4 305,398.5 307,394 310,385.2 314.4,369.5 318.9,349.3 323.4,324.7 327.5,308 333,273 339.5,232 343.5,203 345.5,185 347,168 349,158.5 351.4,153 355.8,146 358,142.9 362,139" fill="none" stroke-width="3.6" stroke-linejoin="round"/><polygon points="356,142.4 357,142.4 357,141.2 358,141.2 358,139.4 359,139.4 359,138.5 360,138.5 360,138.3 361,138.3 361,135.9 362,135.9 362,135.6 363,135.6 363,134.5 364,134.5 364,134 365,134 365,132.8 366,132.8 366,132.2 367,132.2 367,129.7 368,129.7 368,128.3 369,128.3 369,129.7 370,129.7 370,129.1 371,129.1 371,129.1 372,129.1 372,127.9 373,127.9 373,125.6 374,125.6 374,125.5 375,125.5 375,124.3 376,124.3 376,125.6 377,125.6 377,124 378,124 378,123.1 379,123.1 379,123.1 380,123.1 380,122.4 381,122.4 381,122.2 382,122.2 382,122.1 383,122.1 383,120.9 384,120.9 384,120.1 385,120.1 385,119.4 386,119.4 386,119.8 387,119.8 387,118.8 388,118.8 388,117.8 389,117.8 389,117.6 390,117.6 390,117.5 391,117.5 391,117.8 392,117.8 392,116.3 393,116.3 393,116.6 394,116.6 394,116.6 395,116.6 395,115.8 396,115.8 396,114.2 397,114.2 397,115 398,115 398,115.1 399,115.1 399,113.4 400,113.4 400,114.2 401,114.2 401,113.7 402,113.7 402,113.3 403,113.3 403,112.9 404,112.9 404,111.8 405,111.8 405,111.1 406,111.1 406,111.8 407,111.8 407,111.2 408,111.2 408,109.7 409,109.7 409,111 410,111 410,109.4 411,109.4 411,109.7 412,109.7 412,110 413,110 413,109.6 414,109.6 414,107.5 415,107.5 415,107.3 416,107.3 416,108.2 417,108.2 417,106.4 418,106.4 418,106.8 419,106.8 419,107.3 420,107.3 420,106.5 421,106.5 421,106.2 422,106.2 422,106.7 423,106.7 423,106.6 424,106.6 424,103.5 425,103.5 425,106.2 426,106.2 426,104.7 427,104.7 427,106 428,106 428,105.6 429,105.6 429,104.5 430,104.5 430,103.8 431,103.8 431,102.9 432,102.9 432,105.1 433,105.1 433,103.7 434,103.7 434,104.5 435,104.5 435,103.3 436,103.3 436,103.4 437,103.4 437,103.7 438,103.7 438,102.8 439,102.8 439,102.2 440,102.2 440,100.8 441,100.8 441,101.6 442,101.6 442,100.2 443,100.2 443,101.4 444,101.4 444,100.3 445,100.3 445,101.3 446,101.3 446,101.3 447,101.3 447,100.3 448,100.3 448,99 449,99 449,98.8 450,98.8 450,98.8 451,98.8 451,98.3 452,98.3 452,99.4 453,99.4 453,96.9 454,96.9 454,97.9 455,97.9 455,96.3 456,96.3 456,96.8 457,96.8 457,97.2 458,97.2 458,96.3 459,96.3 459,96.6 460,96.6 460,96.2 461,96.2 461,95.7 462,95.7 462,95.9 463,95.9 463,94.7 464,94.7 464,94 465,94 465,94.7 466,94.7 466,94.7 467,94.7 467,93.2 468,93.2 468,94.1 469,94.1 469,93.5 470,93.5 470,93.7 471,93.7 471,92.5 472,92.5 472,91.9 473,91.9 473,92.8 474,92.8 474,90.5 475,90.5 475,91.8 476,91.8 476,92.6 477,92.6 477,92.3 478,92.3 478,91.3 479,91.3 479,91 480,91 480,91 481,91 481,90.4 482,90.4 482,88.6 483,88.6 483,89.7 484,89.7 484,90 485,90 485,90.5 486,90.5 486,89.5 487,89.5 487,91.1 488,91.1 488,89.7 489,89.7 489,90.8 490,90.8 490,88.9 491,88.9 491,90.7 492,90.7 492,89.5 493,89.5 493,90.6 494,90.6 494,89.8 495,89.8 495,89.5 496,89.5 496,89.6 497,89.6 497,88.6 498,88.6 498,89.8 499,89.8 499,90.1 500,90.1 500,90.1 501,90.1 501,89.8 502,89.8 502,90 503,90 503,90.5 504,90.5 504,89.8 505,89.8 505,89.7 506,89.7 506,91.4 507,91.4 507,90.1 508,90.1 508,91.7 509,91.7 509,89.4 510,89.4 510,91.8 511,91.8 511,90.8 512,90.8 512,91.4 513,91.4 513,90.4 514,90.4 514,91.7 515,91.7 515,91.1 516,91.1 516,90.8 517,90.8 517,91.3 518,91.3 518,91 519,91 519,91.4 520,91.4 520,91.5 521,91.5 521,91.7 522,91.7 522,93.1 523,93.1 523,92.2 524,92.2 524,92.3 525,92.3 525,91.8 526,91.8 526,93.6 527,93.6 527,93.1 528,93.1 528,93.1 529,93.1 529,93.2 530,93.2 530,95.7 531,95.7 531,95.1 532,95.1 532,95.1 533,95.1 533,95.8 534,95.8 534,96.9 535,96.9 535,97 536,97 536,97.1 537,97.1 537,97.9 538,97.9 538,98.3 539,98.3 539,97.6 540,97.6 540,97.3 541,97.3 541,97.7 542,97.7 542,99.3 543,99.3 543,98.4 544,98.4 544,98.3 545,98.3 545,101.4 546,101.4 546,100.4 547,100.4 547,101.6 548,101.6 548,102.6 549,102.6 549,102.2 550,102.2 550,103.2 551,103.2 551,103.4 552,103.4 552,104.1 553,104.1 553,104.4 554,104.4 554,104.7 555,104.7 555,106.6 556,106.6 556,107.3 557,107.3 557,107.6 558,107.6 558,108.2 559,108.2 559,107.4 560,107.4 560,108 561,108 561,108 562,108 562,109.1 563,109.1 563,109.1 564,109.1 564,110.7 565,110.7 565,110.7 566,110.7 566,111 567,111 567,112.4 568,112.4 568,110.9 569,110.9 569,113.2 570,113.2 570,112.4 571,112.4 571,114.6 572,114.6 572,114.7 573,114.7 573,116.1 574,116.1 574,115 575,115 575,116.5 576,116.5 576,117.8 577,117.8 577,118.5 578,118.5 578,119.5 579,119.5 579,119.1 580,119.1 580,121.5 581,121.5 581,119.6 582,119.6 582,122.8 583,122.8 583,123.4 584,123.4 584,124.2 585,124.2 585,135.1 584,135.1 584,134 583,134 583,132.7 582,132.7 582,133 581,133 581,131 580,131 580,131 579,131 579,130 578,130 578,129.4 577,129.4 577,129.5 576,129.5 576,127.7 575,127.7 575,127.3 574,127.3 574,126.3 573,126.3 573,125.7 572,125.7 572,122.3 571,122.3 571,118.9 570,118.9 570,121.9 569,121.9 569,123.8 568,123.8 568,125.2 567,125.2 567,124.4 566,124.4 566,123.9 565,123.9 565,123.5 564,123.5 564,123 563,123 563,122.7 562,122.7 562,122.4 561,122.4 561,122.4 560,122.4 560,121.5 559,121.5 559,120.5 558,120.5 558,120.6 557,120.6 557,120.3 556,120.3 556,119.6 555,119.6 555,119.2 554,119.2 554,119.3 553,119.3 553,118 552,118 552,117.1 551,117.1 551,117.6 550,117.6 550,117.3 549,117.3 549,116.5 548,116.5 548,115 547,115 547,114.1 546,114.1 546,117 545,117 545,115.9 544,115.9 544,113.6 543,113.6 543,112.7 542,112.7 542,112.4 541,112.4 541,111.2 540,111.2 540,112.1 539,112.1 539,112.3 538,112.3 538,112.5 537,112.5 537,112.1 536,112.1 536,114.2 535,114.2 535,113 534,113 534,111.2 533,111.2 533,109.9 532,109.9 532,110.1 531,110.1 531,108.4 530,108.4 530,108.1 529,108.1 529,108.5 528,108.5 528,107.2 527,107.2 527,107.8 526,107.8 526,106.2 525,106.2 525,106.3 524,106.3 524,106.9 523,106.9 523,106.4 522,106.4 522,105.7 521,105.7 521,106.9 520,106.9 520,106.4 519,106.4 519,105.3 518,105.3 518,105.7 517,105.7 517,105.2 516,105.2 516,105.9 515,105.9 515,105.5 514,105.5 514,104.3 513,104.3 513,104.2 512,104.2 512,104.6 511,104.6 511,105.2 510,105.2 510,104.1 509,104.1 509,104.3 508,104.3 508,103.2 507,103.2 507,104.4 506,104.4 506,103.8 505,103.8 505,102.7 504,102.7 504,104.2 503,104.2 503,102.9 502,102.9 502,103.2 501,103.2 501,102.3 500,102.3 500,102.8 499,102.8 499,103 498,103 498,103.1 497,103.1 497,103.4 496,103.4 496,102.2 495,102.2 495,102.8 494,102.8 494,103.6 493,103.6 493,105.1 492,105.1 492,104.7 491,104.7 491,103.1 490,103.1 490,102.9 489,102.9 489,102.5 488,102.5 488,102.2 487,102.2 487,102 486,102 486,104.4 485,104.4 485,106 484,106 484,103.5 483,103.5 483,103.3 482,103.3 482,102.4 481,102.4 481,102.7 480,102.7 480,103.5 479,103.5 479,103.6 478,103.6 478,102.3 477,102.3 477,102.8 476,102.8 476,103.7 475,103.7 475,102.9 474,102.9 474,103.3 473,103.3 473,102.2 472,102.2 472,103.5 471,103.5 471,104 470,104 470,102.9 469,102.9 469,102.6 468,102.6 468,104.5 467,104.5 467,103.2 466,103.2 466,105.1 465,105.1 465,103.9 464,103.9 464,103.1 463,103.1 463,104.1 462,104.1 462,104.3 461,104.3 461,105 460,105 460,104.1 459,104.1 459,106.1 458,106.1 458,105.9 457,105.9 457,106 456,106 456,106 455,106 455,106.8 454,106.8 454,106.6 453,106.6 453,107.2 452,107.2 452,107.4 451,107.4 451,107.3 450,107.3 450,108.7 449,108.7 449,108.8 448,108.8 448,109.2 447,109.2 447,108.7 446,108.7 446,109.1 445,109.1 445,110.1 444,110.1 444,109.3 443,109.3 443,111.3 442,111.3 442,110.8 441,110.8 441,110 440,110 440,110.2 439,110.2 439,110.8 438,110.8 438,112.3 437,112.3 437,110.9 436,110.9 436,112.2 435,112.2 435,111.6 434,111.6 434,111.5 433,111.5 433,113.1 432,113.1 432,112.4 431,112.4 431,113.6 430,113.6 430,112.1 429,112.1 429,112.2 428,112.2 428,112.8 427,112.8 427,113.8 426,113.8 426,112.6 425,112.6 425,112.9 424,112.9 424,115.2 423,115.2 423,114.4 422,114.4 422,113.7 421,113.7 421,114.1 420,114.1 420,115.1 419,115.1 419,115.2 418,115.2 418,115.5 417,115.5 417,115.4 416,115.4 416,116.1 415,116.1 415,115.9 414,115.9 414,116.1 413,116.1 413,116.2 412,116.2 412,116.4 411,116.4 411,116.7 410,116.7 410,117.3 409,117.3 409,118.6 408,118.6 408,117.8 407,117.8 407,117.7 406,117.7 406,118.1 405,118.1 405,118.9 404,118.9 404,119.2 403,119.2 403,120.3 402,120.3 402,119.5 401,119.5 401,121.2 400,121.2 400,120.4 399,120.4 399,122.2 398,122.2 398,122.6 397,122.6 397,121.3 396,121.3 396,122 395,122 395,123.5 394,123.5 394,122.9 393,122.9 393,123 392,123 392,124.7 391,124.7 391,125.1 390,125.1 390,127.3 389,127.3 389,125.5 388,125.5 388,125.3 387,125.3 387,125.8 386,125.8 386,127.9 385,127.9 385,127.3 384,127.3 384,127.8 383,127.8 383,129.1 382,129.1 382,130.8 381,130.8 381,129.5 380,129.5 380,131 379,131 379,129.7 378,129.7 378,130.5 377,130.5 377,132.1 376,132.1 376,132.8 375,132.8 375,132.9 374,132.9 374,133.8 373,133.8 373,135.1 372,135.1 372,136.2 371,136.2 371,135.7 370,135.7 370,136.9 369,136.9 369,136.9 368,136.9 368,138.5 367,138.5 367,138.6 366,138.6 366,140 365,140 365,140 364,140 364,140.5 363,140.5 363,142.3 362,142.3 362,142.4 361,142.4 361,145.4 360,145.4 360,144.4 359,144.4 359,145.1 358,145.1 358,147.6 357,147.6 357,149.4 356,149.4" stroke="none"/><polyline points="580,127 583.2,129.5 585.5,134 588,145 591.4,162 600,207.7 605.4,242.8 610,270 615.8,299.2 621.6,328.5 627.5,357.7 634.8,384 638,393.5 640.3,398.2 641.8,400.4 644,401.5 667.8,401.6" fill="none" stroke-width="3.6" stroke-linejoin="round"/></g><g fill="#00ff00" stroke="#00ff00"><polyline points="303,405.8 316.6,404.3 324.5,400.9 331.2,394.2 339,383 348,365 355.9,347 362.6,329 369.3,311.2 372.6,302 375,295 376.5,290 378,286.5 380,284.6 384.6,284 390,282.8" fill="none" stroke-width="3.6" stroke-linejoin="round"/><polygon points="379,283.5 380,283.5 380,281.6 381,281.6 381,282.5 382,282.5 382,281.5 383,281.5 383,282.7 384,282.7 384,282.1 385,282.1 385,281.4 386,281.4 386,280.7 387,280.7 387,280.3 388,280.3 388,280 389,280 389,280 390,280 390,279.6 391,279.6 391,278.1 392,278.1 392,279.4 393,279.4 393,280.1 394,280.1 394,279 395,279 395,279.1 396,279.1 396,276.5 397,276.5 397,278.7 398,278.7 398,277.2 399,277.2 399,277.8 400,277.8 400,276.8 401,276.8 401,276.9 402,276.9 402,277.6 403,277.6 403,276.7 404,276.7 404,276.5 405,276.5 405,275.5 406,275.5 406,276.6 407,276.6 407,277.2 408,277.2 408,274.9 409,274.9 409,277.2 410,277.2 410,276.3 411,276.3 411,274.1 412,274.1 412,276.4 413,276.4 413,275.8 414,275.8 414,274 415,274 415,275.9 416,275.9 416,275.6 417,275.6 417,275 418,275 418,276 419,276 419,275.6 420,275.6 420,275.8 421,275.8 421,275.2 422,275.2 422,274.8 423,274.8 423,274.7 424,274.7 424,272.5 425,272.5 425,273.7 426,273.7 426,272.4 427,272.4 427,273.4 428,273.4 428,274.8 429,274.8 429,274.2 430,274.2 430,274.8 431,274.8 431,273.7 432,273.7 432,273.5 433,273.5 433,273.6 434,273.6 434,274.8 435,274.8 435,273 436,273 436,273.6 437,273.6 437,274.4 438,274.4 438,272.8 439,272.8 439,272.8 440,272.8 440,273.1 441,273.1 441,273.2 442,273.2 442,272.6 443,272.6 443,273.9 444,273.9 444,273.2 445,273.2 445,272.3 446,272.3 446,273.1 447,273.1 447,272.8 448,272.8 448,273 449,273 449,273.2 450,273.2 450,272.3 451,272.3 451,273 452,273 452,272.5 453,272.5 453,271.5 454,271.5 454,271.5 455,271.5 455,270 456,270 456,272.1 457,272.1 457,271.7 458,271.7 458,270.4 459,270.4 459,271.1 460,271.1 460,271.2 461,271.2 461,270.8 462,270.8 462,270.3 463,270.3 463,271 464,271 464,270.4 465,270.4 465,270.9 466,270.9 466,270.1 467,270.1 467,270.4 468,270.4 468,270.5 469,270.5 469,269 470,269 470,269.3 471,269.3 471,270.2 472,270.2 472,269.8 473,269.8 473,270.1 474,270.1 474,269.5 475,269.5 475,268.9 476,268.9 476,269.5 477,269.5 477,270.5 478,270.5 478,267.9 479,267.9 479,269.8 480,269.8 480,270.4 481,270.4 481,270.1 482,270.1 482,268.8 483,268.8 483,269 484,269 484,268.8 485,268.8 485,268.9 486,268.9 486,269.5 487,269.5 487,269.9 488,269.9 488,269.7 489,269.7 489,268.3 490,268.3 490,268.6 491,268.6 491,269.5 492,269.5 492,269.5 493,269.5 493,269.5 494,269.5 494,269.5 495,269.5 495,269.3 496,269.3 496,268.4 497,268.4 497,268 498,268 498,268.8 499,268.8 499,268.8 500,268.8 500,268.6 501,268.6 501,269.1 502,269.1 502,269.7 503,269.7 503,267.4 504,267.4 504,268.6 505,268.6 505,269 506,269 506,268.8 507,268.8 507,269.5 508,269.5 508,269 509,269 509,268.7 510,268.7 510,267.8 511,267.8 511,269.1 512,269.1 512,269.8 513,269.8 513,269.9 514,269.9 514,269.6 515,269.6 515,269.6 516,269.6 516,268.6 517,268.6 517,269.3 518,269.3 518,269.1 519,269.1 519,269.5 520,269.5 520,268.9 521,268.9 521,269.6 522,269.6 522,270.7 523,270.7 523,269.3 524,269.3 524,269.2 525,269.2 525,268.9 526,268.9 526,269.8 527,269.8 527,270.7 528,270.7 528,270.8 529,270.8 529,270.9 530,270.9 530,271.3 531,271.3 531,270.2 532,270.2 532,271.1 533,271.1 533,271.6 534,271.6 534,271 535,271 535,271.8 536,271.8 536,271.8 537,271.8 537,272.4 538,272.4 538,271.6 539,271.6 539,272 540,272 540,271.1 541,271.1 541,271.1 542,271.1 542,273 543,273 543,273.1 544,273.1 544,272 545,272 545,273.4 546,273.4 546,273.5 547,273.5 547,273.8 548,273.8 548,274.1 549,274.1 549,274.5 550,274.5 550,273.4 551,273.4 551,273.9 552,273.9 552,273.8 553,273.8 553,273.9 554,273.9 554,275 555,275 555,275.9 556,275.9 556,274.7 557,274.7 557,275.8 558,275.8 558,274.6 559,274.6 559,275.7 560,275.7 560,276.4 561,276.4 561,275.1 562,275.1 562,276.2 563,276.2 563,276 564,276 564,275.7 565,275.7 565,277 566,277 566,277 567,277 567,277.5 568,277.5 568,276.6 569,276.6 569,277 570,277 570,276 571,276 571,277.6 572,277.6 572,279.4 573,279.4 573,278.4 574,278.4 574,279.4 575,279.4 575,280.1 576,280.1 576,280.3 577,280.3 577,280.4 578,280.4 578,280.6 579,280.6 579,282 580,282 580,281.9 581,281.9 581,281.6 582,281.6 582,282.4 583,282.4 583,282 584,282 584,282.3 585,282.3 585,282.7 586,282.7 586,283.8 587,283.8 587,283.7 588,283.7 588,282.9 589,282.9 589,284.7 590,284.7 590,286 591,286 591,284.2 592,284.2 592,286.9 593,286.9 593,286.6 594,286.6 594,287.7 595,287.7 595,287.8 596,287.8 596,288.2 597,288.2 597,289.4 598,289.4 598,289.8 599,289.8 599,289.9 600,289.9 600,289.6 601,289.6 601,290.6 602,290.6 602,291.2 603,291.2 603,291.3 604,291.3 604,292.9 605,292.9 605,294.1 606,294.1 606,301.7 605,301.7 605,300.8 604,300.8 604,300.8 603,300.8 603,298.9 602,298.9 602,298.7 601,298.7 601,298.3 600,298.3 600,297 599,297 599,295.6 598,295.6 598,295.5 597,295.5 597,294.5 596,294.5 596,293.7 595,293.7 595,293.8 594,293.8 594,294.3 593,294.3 593,295.6 592,295.6 592,293.2 591,293.2 591,294 590,294 590,291.5 589,291.5 589,290.8 588,290.8 588,290.6 587,290.6 587,291.5 586,291.5 586,291 585,291 585,290.5 584,290.5 584,290 583,290 583,289.9 582,289.9 582,288.2 581,288.2 581,287.8 580,287.8 580,288.9 579,288.9 579,287 578,287 578,286.6 577,286.6 577,286.3 576,286.3 576,287.4 575,287.4 575,286 574,286 574,286.7 573,286.7 573,286.3 572,286.3 572,286 571,286 571,285.2 570,285.2 570,284.5 569,284.5 569,284.7 568,284.7 568,284.7 567,284.7 567,284.5 566,284.5 566,285.5 565,285.5 565,282.3 564,282.3 564,282.5 563,282.5 563,283.9 562,283.9 562,283.9 561,283.9 561,282.2 560,282.2 560,283.5 559,283.5 559,282.7 558,282.7 558,283.2 557,283.2 557,282.9 556,282.9 556,283 555,283 555,282.4 554,282.4 554,282.1 553,282.1 553,280.9 552,280.9 552,281.6 551,281.6 551,280.7 550,280.7 550,281.1 549,281.1 549,280.4 548,280.4 548,282.7 547,282.7 547,280.4 546,280.4 546,281 545,281 545,280.1 544,280.1 544,280.2 543,280.2 543,279.8 542,279.8 542,280.1 541,280.1 541,278.8 540,278.8 540,279.8 539,279.8 539,279.7 538,279.7 538,279.4 537,279.4 537,279.3 536,279.3 536,280.5 535,280.5 535,278.2 534,278.2 534,278.1 533,278.1 533,278.1 532,278.1 532,279.7 531,279.7 531,277.1 530,277.1 530,278.2 529,278.2 529,280.1 528,280.1 528,282.5 527,282.5 527,279.4 526,279.4 526,278 525,278 525,278.2 524,278.2 524,277.5 523,277.5 523,278 522,278 522,277 521,277 521,276.3 520,276.3 520,278.4 519,278.4 519,276.5 518,276.5 518,277.4 517,277.4 517,277.2 516,277.2 516,277.3 515,277.3 515,276.8 514,276.8 514,276.7 513,276.7 513,276.7 512,276.7 512,276.3 511,276.3 511,276.9 510,276.9 510,276 509,276 509,277.1 508,277.1 508,276 507,276 507,276.3 506,276.3 506,276.6 505,276.6 505,276.7 504,276.7 504,276.7 503,276.7 503,275.7 502,275.7 502,275.1 501,275.1 501,277.1 500,277.1 500,275.9 499,275.9 499,277.4 498,277.4 498,275.7 497,275.7 497,275.3 496,275.3 496,275.7 495,275.7 495,275.3 494,275.3 494,276.2 493,276.2 493,275.4 492,275.4 492,275.8 491,275.8 491,275.4 490,275.4 490,275.3 489,275.3 489,275.6 488,275.6 488,275.5 487,275.5 487,279.9 486,279.9 486,279.1 485,279.1 485,275.6 484,275.6 484,276.3 483,276.3 483,277.2 482,277.2 482,276.6 481,276.6 481,276.5 480,276.5 480,276.8 479,276.8 479,276.4 478,276.4 478,277 477,277 477,276.6 476,276.6 476,276.9 475,276.9 475,276.2 474,276.2 474,278.3 473,278.3 473,276.3 472,276.3 472,276.3 471,276.3 471,276.1 470,276.1 470,276 469,276 469,275.8 468,275.8 468,276.9 467,276.9 467,276.2 466,276.2 466,276.7 465,276.7 465,277.2 464,277.2 464,277.2 463,277.2 463,277.1 462,277.1 462,276.9 461,276.9 461,276.7 460,276.7 460,277.2 459,277.2 459,276.9 458,276.9 458,276.5 457,276.5 457,277.8 456,277.8 456,278.3 455,278.3 455,277.1 454,277.1 454,277.5 453,277.5 453,278.6 452,278.6 452,277.6 451,277.6 451,279.8 450,279.8 450,278.7 449,278.7 449,278.3 448,278.3 448,278.8 447,278.8 447,278.6 446,278.6 446,278.5 445,278.5 445,280.6 444,280.6 444,279.8 443,279.8 443,280.9 442,280.9 442,280.2 441,280.2 441,279.4 440,279.4 440,279.5 439,279.5 439,279 438,279 438,278.9 437,278.9 437,280 436,280 436,279.5 435,279.5 435,279.7 434,279.7 434,280.2 433,280.2 433,280.3 432,280.3 432,279.5 431,279.5 431,280.5 430,280.5 430,281.3 429,281.3 429,282.2 428,282.2 428,280.5 427,280.5 427,279.3 426,279.3 426,279.5 425,279.5 425,280.5 424,280.5 424,280.7 423,280.7 423,281 422,281 422,280.8 421,280.8 421,280.2 420,280.2 420,281.3 419,281.3 419,279.7 418,279.7 418,280.9 417,280.9 417,280.6 416,280.6 416,281.4 415,281.4 415,280.3 414,280.3 414,281.4 413,281.4 413,280.2 412,280.2 412,280.9 411,280.9 411,281.6 410,281.6 410,280.9 409,280.9 409,282.4 408,282.4 408,282.6 407,282.6 407,282.2 406,282.2 406,281.7 405,281.7 405,282.5 404,282.5 404,283.2 403,283.2 403,282 402,282 402,282.5 401,282.5 401,283.2 400,283.2 400,283.1 399,283.1 399,282.4 398,282.4 398,284.4 397,284.4 397,284.2 396,284.2 396,283.8 395,283.8 395,284.8 394,284.8 394,283.8 393,283.8 393,285.4 392,285.4 392,285.5 391,285.5 391,286.1 390,286.1 390,286.3 389,286.3 389,285.8 388,285.8 388,286.7 387,286.7 387,287 386,287 386,287.3 385,287.3 385,287.3 384,287.3 384,286.2 383,286.2 383,287 382,287 382,287.8 381,287.8 381,287.7 380,287.7 380,288 379,288" stroke="none"/><polyline points="600,294 605.6,299.2 609.5,305 612.9,313.9 618.7,334.3 624.6,360.6 630.4,384 634,394 637.7,401.6 641,404.8 645,406 650,406" fill="none" stroke-width="3.6" stroke-linejoin="round"/></g><g fill="#0000ff" stroke="#0000ff"><polyline points="282.6,405.6 303,405.6 306,403 308.8,398.7 312.1,389.7 316.6,374 321.1,358.3 325.6,340.4 329,322.4 336.8,313.5 340.4,310 346.9,300 360,280.8 370,267 377.3,252.5 379.5,248.3 381.7,247 386,245.5" fill="none" stroke-width="3.6" stroke-linejoin="round"/><polygon points="380,245.4 381,245.4 381,245.1 382,245.1 382,243.9 383,243.9 383,243.5 384,243.5 384,242.8 385,242.8 385,243.4 386,243.4 386,241.6 387,241.6 387,241.5 388,241.5 388,241.6 389,241.6 389,240.3 390,240.3 390,241.5 391,241.5 391,241 392,241 392,240.2 393,240.2 393,239.9 394,239.9 394,240.3 395,240.3 395,238.5 396,238.5 396,238.6 397,238.6 397,238.1 398,238.1 398,236.9 399,236.9 399,238.5 400,238.5 400,238.5 401,238.5 401,237.8 402,237.8 402,237.6 403,237.6 403,238 404,238 404,236.8 405,236.8 405,236.3 406,236.3 406,235.9 407,235.9 407,235.8 408,235.8 408,235.8 409,235.8 409,236.5 410,236.5 410,236.7 411,236.7 411,236.6 412,236.6 412,235.1 413,235.1 413,236.7 414,236.7 414,236.5 415,236.5 415,235.6 416,235.6 416,235.7 417,235.7 417,236.2 418,236.2 418,235.4 419,235.4 419,235.2 420,235.2 420,236.8 421,236.8 421,235.9 422,235.9 422,237.3 423,237.3 423,236.8 424,236.8 424,236.7 425,236.7 425,236.1 426,236.1 426,236.7 427,236.7 427,236.4 428,236.4 428,235.9 429,235.9 429,235.7 430,235.7 430,235.1 431,235.1 431,236.5 432,236.5 432,235.1 433,235.1 433,234.7 434,234.7 434,234.9 435,234.9 435,233.6 436,233.6 436,234.8 437,234.8 437,234.4 438,234.4 438,234.8 439,234.8 439,233.3 440,233.3 440,233.8 441,233.8 441,233.4 442,233.4 442,230.3 443,230.3 443,231.9 444,231.9 444,232 445,232 445,231 446,231 446,230.8 447,230.8 447,231 448,231 448,230 449,230 449,229.7 450,229.7 450,229.3 451,229.3 451,230.4 452,230.4 452,228.6 453,228.6 453,229.1 454,229.1 454,228.8 455,228.8 455,227.7 456,227.7 456,228.4 457,228.4 457,228.4 458,228.4 458,229.7 459,229.7 459,228.3 460,228.3 460,228.2 461,228.2 461,228.1 462,228.1 462,227.8 463,227.8 463,228.9 464,228.9 464,227.2 465,227.2 465,226.6 466,226.6 466,227.1 467,227.1 467,227.2 468,227.2 468,228.4 469,228.4 469,225.4 470,225.4 470,227 471,227 471,226.6 472,226.6 472,226.3 473,226.3 473,226.4 474,226.4 474,225.3 475,225.3 475,225.8 476,225.8 476,225.8 477,225.8 477,225.2 478,225.2 478,225.1 479,225.1 479,225.1 480,225.1 480,226.1 481,226.1 481,226 482,226 482,225.3 483,225.3 483,225.9 484,225.9 484,225 485,225 485,224.2 486,224.2 486,225 487,225 487,224.3 488,224.3 488,224.1 489,224.1 489,224.8 490,224.8 490,224.4 491,224.4 491,225.2 492,225.2 492,225.1 493,225.1 493,224.8 494,224.8 494,225.1 495,225.1 495,224 496,224 496,223.9 497,223.9 497,223.7 498,223.7 498,225 499,225 499,224.6 500,224.6 500,222.2 501,222.2 501,224.7 502,224.7 502,222.5 503,222.5 503,224.1 504,224.1 504,225.3 505,225.3 505,225 506,225 506,224.4 507,224.4 507,224.2 508,224.2 508,225.5 509,225.5 509,225 510,225 510,225.3 511,225.3 511,224.6 512,224.6 512,223.2 513,223.2 513,226 514,226 514,225.6 515,225.6 515,225.9 516,225.9 516,225.4 517,225.4 517,225.3 518,225.3 518,226.8 519,226.8 519,226.9 520,226.9 520,226.5 521,226.5 521,226.5 522,226.5 522,227.4 523,227.4 523,226.8 524,226.8 524,227.2 525,227.2 525,227.1 526,227.1 526,227.6 527,227.6 527,227 528,227 528,228 529,228 529,228.2 530,228.2 530,228.9 531,228.9 531,227.8 532,227.8 532,228.5 533,228.5 533,229.4 534,229.4 534,228.9 535,228.9 535,229 536,229 536,229.8 537,229.8 537,230.5 538,230.5 538,230.6 539,230.6 539,230.8 540,230.8 540,229.9 541,229.9 541,231.1 542,231.1 542,231.1 543,231.1 543,230.7 544,230.7 544,231.4 545,231.4 545,232.4 546,232.4 546,231.7 547,231.7 547,231.9 548,231.9 548,232.9 549,232.9 549,233.2 550,233.2 550,233.3 551,233.3 551,234 552,234 552,234.8 553,234.8 553,234.9 554,234.9 554,236.8 555,236.8 555,236.9 556,236.9 556,238.9 557,238.9 557,239.9 558,239.9 558,240.5 559,240.5 559,243.2 560,243.2 560,244.9 561,244.9 561,256.8 560,256.8 560,255.3 559,255.3 559,252 558,252 558,250.4 557,250.4 557,247.3 556,247.3 556,247.4 555,247.4 555,246 554,246 554,246.2 553,246.2 553,243.8 552,243.8 552,243.8 551,243.8 551,244.7 550,244.7 550,244.5 549,244.5 549,242.4 548,242.4 548,244.5 547,244.5 547,250.7 546,250.7 546,252.3 545,252.3 545,247.8 544,247.8 544,240.6 543,240.6 543,242 542,242 542,239.6 541,239.6 541,241.7 540,241.7 540,241.7 539,241.7 539,240.7 538,240.7 538,238.6 537,238.6 537,239.7 536,239.7 536,239.2 535,239.2 535,237.7 534,237.7 534,238.5 533,238.5 533,237.6 532,237.6 532,240.4 531,240.4 531,237.9 530,237.9 530,237.9 529,237.9 529,238.1 528,238.1 528,237.2 527,237.2 527,236.3 526,236.3 526,236.1 525,236.1 525,236.4 524,236.4 524,235.6 523,235.6 523,235.3 522,235.3 522,236.3 521,236.3 521,235.4 520,235.4 520,237.2 519,237.2 519,236.2 518,236.2 518,234.6 517,234.6 517,235.1 516,235.1 516,235.7 515,235.7 515,234.9 514,234.9 514,234.8 513,234.8 513,235.2 512,235.2 512,235.6 511,235.6 511,233.9 510,233.9 510,234.5 509,234.5 509,234.8 508,234.8 508,233.8 507,233.8 507,234 506,234 506,233.8 505,233.8 505,233.4 504,233.4 504,233.4 503,233.4 503,233.3 502,233.3 502,234.7 501,234.7 501,234 500,234 500,233.2 499,233.2 499,233.1 498,233.1 498,233.3 497,233.3 497,233.7 496,233.7 496,233 495,233 495,233.1 494,233.1 494,234 493,234 493,233.8 492,233.8 492,233.1 491,233.1 491,234.5 490,234.5 490,233.2 489,233.2 489,233.4 488,233.4 488,233.1 487,233.1 487,234.8 486,234.8 486,234.4 485,234.4 485,235.6 484,235.6 484,235.8 483,235.8 483,235 482,235 482,236.6 481,236.6 481,233.6 480,233.6 480,234.9 479,234.9 479,235.9 478,235.9 478,235.1 477,235.1 477,234.5 476,234.5 476,235.3 475,235.3 475,234.5 474,234.5 474,233.9 473,233.9 473,234.1 472,234.1 472,235.4 471,235.4 471,234.6 470,234.6 470,234.4 469,234.4 469,235.3 468,235.3 468,235.2 467,235.2 467,234.5 466,234.5 466,235.2 465,235.2 465,234.9 464,234.9 464,235.2 463,235.2 463,235.6 462,235.6 462,236.1 461,236.1 461,236.8 460,236.8 460,236.3 459,236.3 459,236.1 458,236.1 458,236.6 457,236.6 457,237 456,237 456,237.7 455,237.7 455,236.7 454,236.7 454,237.3 453,237.3 453,237.8 452,237.8 452,239.1 451,239.1 451,237.9 450,237.9 450,239.3 449,239.3 449,238.6 448,238.6 448,239.8 447,239.8 447,239.9 446,239.9 446,238.5 445,238.5 445,240.4 444,240.4 444,242.8 443,242.8 443,239.5 442,239.5 442,239.8 441,239.8 441,241 440,241 440,239.7 439,239.7 439,241.4 438,241.4 438,240.4 437,240.4 437,241.3 436,241.3 436,241.5 435,241.5 435,241.5 434,241.5 434,241.7 433,241.7 433,241.6 432,241.6 432,242.4 431,242.4 431,242.6 430,242.6 430,242.9 429,242.9 429,242.2 428,242.2 428,242.2 427,242.2 427,242.6 426,242.6 426,242.7 425,242.7 425,243 424,243 424,242.6 423,242.6 423,242.9 422,242.9 422,241.3 421,241.3 421,242.8 420,242.8 420,242.5 419,242.5 419,240.9 418,240.9 418,241.3 417,241.3 417,241.3 416,241.3 416,242.1 415,242.1 415,242.1 414,242.1 414,242.2 413,242.2 413,242.8 412,242.8 412,244.5 411,244.5 411,243.2 410,243.2 410,243.6 409,243.6 409,244.4 408,244.4 408,242.9 407,242.9 407,243.4 406,243.4 406,243 405,243 405,244.9 404,244.9 404,243.7 403,243.7 403,245.1 402,245.1 402,244.3 401,244.3 401,244.7 400,244.7 400,245.1 399,245.1 399,244.7 398,244.7 398,244.7 397,244.7 397,245.5 396,245.5 396,246 395,246 395,245.6 394,245.6 394,245.8 393,245.8 393,246 392,246 392,245.9 391,245.9 391,247.3 390,247.3 390,246.8 389,246.8 389,247 388,247 388,248 387,248 387,248.5 386,248.5 386,249.6 385,249.6 385,248.9 384,248.9 384,250.3 383,250.3 383,249.8 382,249.8 382,249.6 381,249.6 381,251.1 380,251.1" stroke="none"/><polyline points="556.5,243.5 559.4,248 561.6,254 568.6,278 574.9,299.2 582.2,328.5 590.9,354.8 599.7,378.2 608.5,395.7 612,399.6 615.8,402.3 620,404 628,404.7 636,406.1 667.8,406.2" fill="none" stroke-width="3.6" stroke-linejoin="round"/></g></g>
<g shape-rendering="crispEdges" stroke-width="3.4">
<path d="M299.2 60.3 H325" stroke="#000"/><path d="M299.2 75.9 H325" stroke="#0f0"/><path d="M299.2 91.8 H325" stroke="#00f"/>
</g>
<text class="k" x="332" y="61.8" textLength="59.5" lengthAdjust="spacingAndGlyphs">Center</text>
<text class="g" x="332.6" y="80.6" textLength="34.3" lengthAdjust="spacingAndGlyphs">Left</text>
<text class="b" x="332.6" y="96.3" textLength="45.4" lengthAdjust="spacingAndGlyphs">Right</text>
<text class="b" x="358.7" y="178.3" textLength="39.5" lengthAdjust="spacingAndGlyphs">1200</text>
<text class="b" x="536.3" y="178.5" textLength="40.4" lengthAdjust="spacingAndGlyphs">3400</text>
<text class="k" x="341" y="236.6" textLength="31" lengthAdjust="spacingAndGlyphs">900</text>
<text class="k" x="562.3" y="236.4" textLength="40.6" lengthAdjust="spacingAndGlyphs">3680</text>
<text class="k" x="365.8" y="432.6" textLength="40.3" lengthAdjust="spacingAndGlyphs" text-anchor="middle">1000</text>
<text class="k" x="447.1" y="432.6" textLength="40.3" lengthAdjust="spacingAndGlyphs" text-anchor="middle">2000</text>
<text class="k" x="528.5" y="432.6" textLength="40.3" lengthAdjust="spacingAndGlyphs" text-anchor="middle">3000</text>
<text class="k" x="609.8" y="432.6" textLength="40.3" lengthAdjust="spacingAndGlyphs" text-anchor="middle">4000</text>
<text class="k" x="274.6" y="417.6" text-anchor="end">0</text>
<text class="k" x="274.6" y="354" text-anchor="end">0.2</text>
<text class="k" x="274.6" y="290.3" text-anchor="end">0.4</text>
<text class="k" x="274.6" y="226.7" text-anchor="end">0.6</text>
<text class="k" x="274.6" y="163.1" text-anchor="end">0.8</text>
<text class="k" x="274.6" y="99.4" text-anchor="end">1</text>
<text class="k" x="274.6" y="35.8" text-anchor="end">1.2</text>
<text class="k" x="356.6" y="454.4" textLength="72.2" lengthAdjust="spacingAndGlyphs">Spectral</text>
<text class="k" x="438.6" y="454.4" textLength="80" lengthAdjust="spacingAndGlyphs">direction</text>
<text class="k" x="528.2" y="454.4" textLength="64" lengthAdjust="spacingAndGlyphs">(pixels)</text>
<text class="k" transform="translate(236.5 312.3) rotate(-90)" textLength="98" lengthAdjust="spacingAndGlyphs">Normalised</text>
<text class="k" transform="translate(236.5 205.6) rotate(-90)" textLength="78.6" lengthAdjust="spacingAndGlyphs">Intensity</text>
</svg></body></html>
